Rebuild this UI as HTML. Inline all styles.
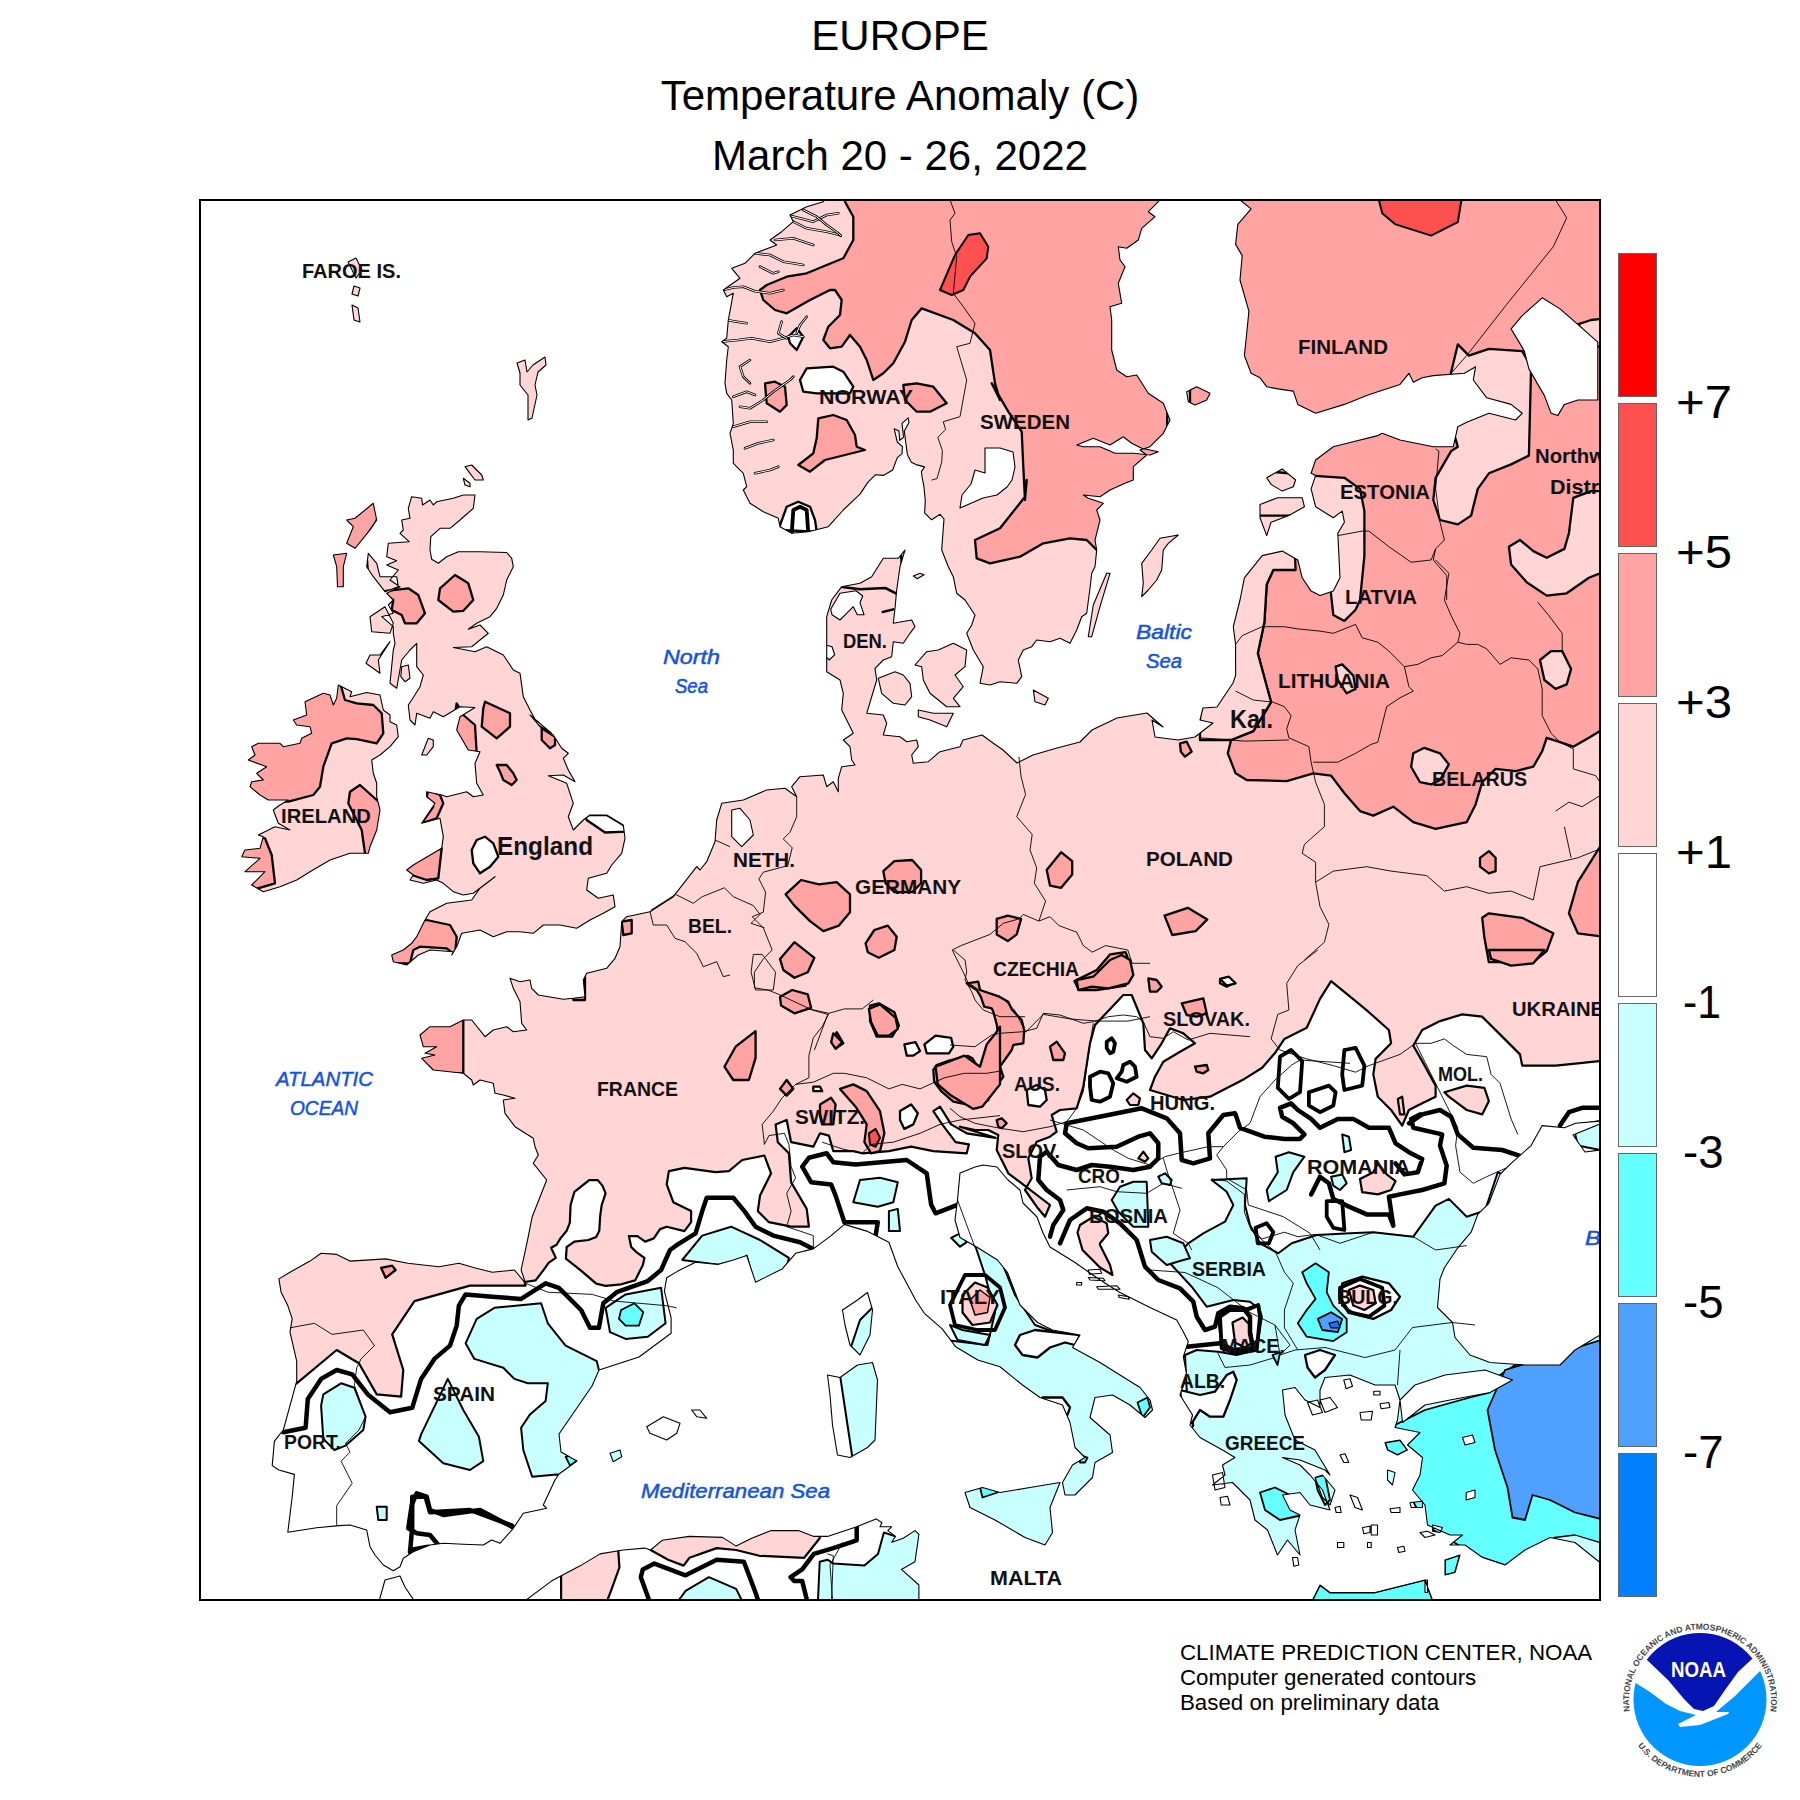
<!DOCTYPE html>
<html><head><meta charset="utf-8"><style>
html,body{margin:0;padding:0;background:#fff;width:1800px;height:1800px;overflow:hidden;position:relative}
text{font-family:"Liberation Sans",sans-serif}
.t{font-size:42px;text-anchor:middle}
.leg{font-size:46.5px}
.f{font-size:22.3px}
.c{font-size:21px;font-weight:bold;fill:#111}
.cl{font-size:25px;font-weight:bold;fill:#111}
.s{font-size:21px;font-style:italic;fill:#1552e0;stroke:#1552e0;stroke-width:0.5}
</style></head><body>
<svg width="1800" height="1800" viewBox="0 0 1800 1800" style="position:absolute;left:0;top:0">
<defs><clipPath id="land"><path d="M411.7,496.7 421.7,498.3 422.5,505 430,500 433.3,505 436.7,501.7 453.3,498.3 463.3,495 475,495 473.3,508.3 460,520 450,528.3 440,528.3 430.8,536.7 430,550 431.7,559.2 438.3,563.3 446.7,556.7 458.3,551.7 480,551.7 506.7,552.5 511.7,558.3 513.3,566.7 506.7,580 503.3,595 496.7,608.3 490,616.7 476.7,623.3 468.3,629.2 480,625 488.3,633.3 480,640 471.7,646.7 453.3,647.5 475,651.7 486.7,646.7 503.3,655 513.3,670 520,673.3 523.3,696.7 530,710 538.3,725 551.7,733.3 530,715 540,726.7 553.3,735 561.7,748.3 568.3,753.3 563.3,758.3 568.3,770 575,781.7 563.3,775 548.3,775.8 566.7,783.3 573.3,803.3 568.3,816.7 573.3,830 583.3,820 590,815 606.7,815 623.3,825 625,838.3 621.7,853.3 611.7,865 606.7,873.3 588.3,878.3 586.7,890 598.3,898.3 613.3,895 615,906.7 603.3,913.3 590,920 576.7,928.3 560,925 543.3,925 533.3,933.3 520,931.7 506.7,931.7 493.3,936.7 480,930 461.7,933.3 456.7,946.7 451.7,955 453.3,951.7 430,950 418.3,955 406.7,965 393.3,961.7 391.7,955 403.3,950 411.7,943.3 416.7,936.7 425,920 430,911.7 446.7,903.3 471.7,900 480,888.3 495,876.7 473.3,893.3 463.3,895 453.3,891.7 443.3,883.3 436.7,880 423.3,883.3 410,880 413.3,875 406.7,870 413.3,865 441.7,848.3 443.3,836.7 440,818.3 421.7,823.3 435,803.3 426.7,796.7 426.7,791.7 441.7,795 446.7,796.7 466.7,791.7 473.3,796.7 483.3,795 476.7,783.3 475,763.3 480,751.7 468.3,750 456.7,730 460,716.7 475,707.5 460,706.7 443.3,716.7 433.3,711.7 430,718.3 416.7,713.3 415,725 410,720 408.3,705 411.7,700 420,686.7 423.3,675 416.7,666.7 416.7,643.3 410,650 401.7,660 396.7,688.3 390,683.3 393.3,650 395,643.3 393.3,633.3 393.3,626.7 381.7,616.7 393.3,613.3 388.3,605 393.3,600 386.7,593.3 400,586.7 390,580 398.3,570 386.7,565 396.7,560.8 386.7,556.7 388.3,543.3 409.2,541.7 400,533.3 403.3,530 401.7,520 410,518.3 408.3,508.3 ZM338.3,685 351.7,691.7 350,696.7 366.7,692.5 380,695 383.3,710 390,715 390,721.7 396.7,725 398.3,736.7 390,746.7 380,755 371.7,760 373.3,773.3 376.7,783.3 376.7,796.7 380,810 376.7,830 370,846.7 368.3,853.3 350,853.3 330,860 310,871.7 296.7,880 280,886.7 263.3,891.7 251.7,885 265,871.7 245,871.7 260,858.3 241.7,856.7 245,850 260,848.3 263.3,836.7 258.3,835 275,826.7 290,830 278.3,823.3 273.3,810 280,805 288.3,800 268.3,800 260,795 250,786.7 251.7,781.7 263.3,780 256.7,773.3 266.7,766.7 248.3,760 255,755 251.7,746.7 258.3,743.3 280,743.3 283.3,746.7 300,743.3 301.7,738.3 311.7,733.3 310,726.7 296.7,725 293.3,720 306.7,715 305,701.7 323.3,693.3 330,695 333.3,705 336.7,698.3 ZM373.3,503.3 376.7,520 370,530 355,548.3 346.7,543.3 353.3,526.7 346.7,520 355,518.3 ZM333.3,555 346.7,553.3 343.3,566.7 343.3,586.7 337.5,586.7 336.7,566.7 ZM368.3,553.3 376.7,563.3 380,576.7 396.7,576.7 398.3,586.7 385,591.7 373.3,576.7 366.7,566.7 ZM370,616.7 385,606.7 393.3,623.3 390,633.3 371.7,631.7 ZM366,663.3 380,673.3 378.3,660 390,641.7 380,655 370,655 ZM401.7,666.7 408.3,665 410,678.3 405,681.7 400.8,676.7 ZM465,466.7 471.7,465 481.7,475 483.3,480 475,480 470,473.3 ZM463.3,478.3 470,483.3 470,486.7 465,485 ZM421.7,755 428.3,738.3 433.3,740 433.3,746.7 426.7,755 ZM517,363 525,360 527,372 533,365 545,357 546,365 538,372 535,385 537,395 532,418 528,420 528,395 520,385 520,373 ZM348,262 356,258 362,270 356,278 ZM354,286 360,288 358,296 352,294 ZM352,305 358,308 360,322 354,320 ZM823.3,196.7 823.3,201.7 806.7,206.7 790,215 793.3,221.7 781.7,231.7 770,240 776.7,245 755,253.3 745,263.3 731.7,268.3 740,278.3 723.3,290 726.7,296.7 733.3,293.3 728.3,320 726.7,338.3 721.7,341.7 728.3,346.7 726.7,360 725,383.3 726.7,393.3 731.7,400 733.3,423.3 730,433.3 733.3,450 733.3,463.3 743.3,473.3 746.7,486.7 743.3,490 750,503.3 763.3,511.7 778.3,518.3 780,526.7 791.7,533.3 808.3,531.7 828.3,526.7 843.3,510 860,494.1 867.8,482.4 875.6,474.7 883.3,475.4 892.7,470 897.3,457.6 902,453.7 902.4,446.7 897.3,442 894.2,428.8 898.9,431.1 899.7,440.4 903.6,437.3 902,423.3 908.2,417.9 909,422.6 904.3,431.1 905.9,443.6 907.4,454.4 911.3,462.2 916,464.6 924.6,466.9 921.4,471.6 922.2,477.8 923.8,485.6 925.3,501.1 924.6,512.8 931.6,519.8 940.1,514.3 944,519 942.4,540 941.7,550 948.3,566.7 953.3,576.7 956.7,593.3 965,600 975,615 971.7,625 966.7,633.3 973.3,650 983.3,666.7 980,683.3 980,683.3 990,685 1000,681.7 1016.7,683.3 1021.7,676.7 1018.3,660 1023.3,650 1031.7,646.7 1036.7,640 1050,641.7 1060,638.3 1070,643.3 1076.7,630 1081.7,616.7 1086.7,613.3 1090,588.3 1091.7,573.3 1095,566.7 1096.7,550 1095,540 1096.7,533.3 1100,520 1096.7,510 1103.3,503.3 1088.3,498.3 1083.3,495 1100,496.7 1110,490 1125,483.3 1133.3,480 1133.3,466.7 1146.7,455 1140,450 1150,446.7 1163.3,433.3 1170,420 1163.3,403.3 1148.3,393.3 1136.7,375 1126.7,376.7 1116.7,370 1111.7,350 1111.7,320 1110,306.7 1121.7,303.3 1118.3,283.3 1125,266.7 1120,260 1118.3,246.7 1126.7,248.3 1138.3,240 1141.7,228.3 1155,216.7 1148.3,211.7 1160,200 1160,196.7 ZM1240,195.6 1240,200 1251.1,208.9 1237.8,224.4 1235.6,244.4 1242.2,255.6 1240,280 1248.9,311.1 1246.7,333.3 1244.4,355.6 1251.1,373.3 1260,377.8 1266.7,386.7 1277.8,388.9 1293.3,391.1 1297.8,404.4 1315.6,413.3 1344.4,404.4 1366.7,395.6 1380,391.1 1400,384.4 1408.9,373.3 1413.3,382.2 1422.2,377.8 1433.3,375.6 1464.4,373.3 1475.6,366.7 1473.3,380 1486.7,397.8 1511.1,404.4 1522.2,413.3 1515.6,420 1488.9,413.3 1466.7,422.2 1457.8,426.7 1453.3,446.7 1433.3,446.7 1400,440 1382.2,433.3 1377.8,435.6 1351.1,442.2 1333.3,446.7 1315.6,460 1311.1,473.3 1315.6,475.6 1311.1,488.9 1315.6,506.7 1333.3,517.8 1342.2,511.1 1344.4,522.2 1337.8,533.3 1340,577.8 1333.3,591.1 1320,595.6 1311.1,591.1 1302.2,577.8 1297.8,560 1282.2,551.1 1262.2,555.6 1244.4,577.8 1240,600 1233.3,626.7 1235.6,644.4 1235.6,675.6 1233,683 1217,707 1203,708 1200,720 1213,723 1195,737 1178,740 1155,737 1152,720 1163,727 1147,713 1117,718 1092,730 1080,742 1057,748 1033,755 1017,763 1003,750 993,743 982,735 963,740 960,746.7 940,751.7 928.3,761.7 913.3,763.3 911.7,755 918.3,746.7 916.7,740 906.7,741.7 900,736.7 883.3,735 886.7,723.3 883.3,715 866.7,713.3 876.7,680 875,668.3 883.3,660 891.7,656.7 893.3,641.7 903.3,643.3 910,633.3 915,626.7 911.7,620 893.3,623.3 895,608.3 896.7,590 900,566.7 905,550 898.3,558.3 883.3,558.3 871.7,576.7 860,583.3 841.7,586.7 831.7,600 826.7,616.7 826.7,646.7 826.7,671.7 840,680 843.3,693.3 841.7,710 853.3,733.3 843.3,740 850,746.7 851.7,760 855,765 841.7,766.7 838.3,778.3 838.3,791.7 833.3,781.7 826.7,786.7 823.3,775 800,776.7 791.7,786.7 796.7,796.7 785,788.3 766.7,790 743.3,800 721.7,803.3 716.7,820 715,841.7 706.7,861.7 700,870 696.7,866.7 673.3,896.7 650,911.7 626.7,916.7 621.7,921.7 620,946.7 615,958.3 606.7,968.3 586.7,973.3 583.3,980 585,996.7 573.3,998.3 563.3,999.2 538.3,995 531.7,988.3 530,980 520,981.7 510,978.3 513.3,988.3 520,1001.7 521.7,1023.3 526.7,1030 513.3,1031.7 506.7,1026.7 493.3,1030 485,1036.7 471.7,1020 463.3,1020 450,1026.7 430,1026.7 420,1035 423.3,1046.7 436.7,1046.7 425,1053.3 435,1055 421.7,1058.3 433.3,1070 463.3,1073.3 471.7,1080 473.3,1085 480,1080 493.3,1083.3 495,1093.3 503.3,1095 515,1098.3 503.3,1100 505,1113.3 515,1126.7 533.3,1138.3 535,1146.7 538.3,1155 533.3,1163.3 546.7,1180 532.2,1216.7 527.8,1238.9 521.1,1270 525.6,1283.3 514.4,1270 492.2,1272.2 474.4,1267.8 458.9,1263.3 438.9,1266.7 407.8,1263.3 385.6,1258.9 350,1261.1 336.7,1254.4 321.1,1253.3 310,1261.1 290,1272.2 278.9,1278.9 281.1,1292.2 287.8,1305.6 292.2,1318.9 290,1332.2 296.7,1361.1 296.7,1381.1 290,1405.6 283.3,1430 274.4,1441.1 272.2,1465.6 278.9,1470 294.4,1474.4 292.2,1496.7 287.8,1532.2 316.7,1527.8 338.9,1525.6 350,1525 366.7,1530 370,1546.7 375,1555 383.3,1565 393.3,1570.8 400,1566.7 403.3,1558.3 413.3,1551.7 430,1545 443.3,1543.3 463.3,1544.2 483.3,1545 491.7,1540 500,1543.3 513.3,1528.3 523.3,1513.3 546.7,1508.3 543.3,1505 555,1480 559,1474 577,1461 561,1452 559,1434 592,1386 599,1370 639,1357 671.1,1333.3 671.1,1317.8 664.4,1291.1 666.7,1277.8 677.8,1271.1 695.6,1262.2 717.8,1264.4 733.3,1260 746.7,1255.6 755.6,1282.2 782.2,1268.9 795.6,1253.3 813.3,1248.9 831.1,1235.6 844.4,1224.4 866.7,1231.1 888.9,1242.2 897.8,1266.7 915.6,1300 924.4,1313.3 942.2,1328.9 955.6,1346.7 977.8,1360 1000,1366.7 1022.5,1385 1040,1397.5 1062.5,1405 1070,1422.5 1075,1447.5 1085,1457.5 1072.5,1465 1062.5,1482.5 1065,1495 1075,1495 1092.5,1477.5 1095,1462.5 1112.5,1452.5 1110,1435 1090,1417.5 1095,1397.5 1112.5,1395 1130,1405 1145,1417.5 1152.5,1410 1150,1400 1140,1387.5 1120,1375 1100,1362.5 1072.5,1347.5 1080,1335 1052.5,1330 1037.5,1322.5 1020,1305 1007.5,1272.5 997.5,1260 977.5,1247.5 960,1237.5 955,1220 957.5,1200 960,1173 975,1167 983,1165 997,1167 1008,1180 1020,1190 1023,1203 1037,1217 1043,1233 1050,1247 1075,1262.5 1100,1280 1120,1292.5 1150,1307.5 1176.7,1320 1183.3,1331.7 1188.3,1341.7 1183.3,1356.7 1186.7,1375 1180,1395 1192.5,1415 1190,1425 1200,1437.5 1222.5,1450 1235,1457.5 1222.5,1465 1225,1475 1212.5,1485 1232.5,1482.5 1250,1500 1255,1520 1267.5,1530 1277.5,1555 1287.5,1540 1300,1555 1295,1530 1300,1515 1290,1510 1282.5,1495 1300,1492.5 1310,1505 1330,1510 1322.5,1490 1310,1475 1300,1465 1282.5,1457.5 1300,1460 1325,1470 1330,1475 1315,1450 1295,1440 1285,1415 1282.5,1390 1295,1387.5 1305,1400 1320,1407.5 1320,1390 1325,1377.5 1350,1375 1375,1385 1395,1385 1400,1400 1397.5,1420 1395,1427.5 1420,1432.5 1407.5,1445 1422.5,1457.5 1420,1475 1412.5,1490 1425,1505 1427.5,1525 1450,1535 1462.5,1535 1450,1545 1465,1545 1482.5,1557.5 1505,1565 1525,1550 1550,1537.5 1575,1542.5 1600,1562.5 1615,1562 1615,1335 1600,1335 1575,1350 1560,1365 1525,1365 1490,1362.5 1470,1355 1455,1337.5 1452.5,1322.5 1437.5,1307.5 1440,1278.9 1444.4,1267.8 1457.8,1247.8 1471.1,1232.2 1477.8,1214.4 1488.9,1203.3 1500,1174.4 1511.1,1163.3 1531.1,1145.6 1542.2,1125.6 1564.4,1127.8 1575.6,1123.3 1600,1121 1615,1121 1615,185 1240,185 ZM378,1605 385,1580 400,1576 405,1587 417,1605 525,1605 526.1,1600 551.4,1581.1 580.6,1565.6 600,1553.9 623.3,1550 644.7,1548.1 650.6,1550 662.2,1540.3 689.4,1536.4 722.5,1537.4 736.1,1546.1 751.7,1538.3 771.1,1530.6 776.9,1530.6 798.3,1530.6 813.9,1536.4 827.5,1536.4 856.7,1526.7 876.1,1518.9 881.9,1522.8 880,1526.7 891.7,1526.7 887.8,1530.6 895.5,1536.4 891.7,1542.2 903.3,1538.3 915,1530.6 918.9,1534.4 915,1561.7 901.4,1569.4 918.9,1585 918.9,1604.4 ZM878.3,678.3 895,671.7 903.3,675 910,683.3 911.7,696.7 905,705 893.3,703.3 881.7,693.3 ZM915,665 926.7,651.7 938.3,650 953.3,643.3 966.7,650 965,666.7 955,675 963.3,686.7 953.3,698.3 960,706.7 946.7,706.7 930,693.3 923.3,680 921.7,666.7 ZM918.3,710 933.3,713.3 953.3,713.3 946.7,726.7 930,720 918.3,716.7 ZM1088.3,636.7 1093.3,605 1106.7,573.3 1110,573.3 1100,606.7 1091.7,636.7 ZM1141.7,596.7 1143.3,583.3 1141.7,563.3 1151.7,550 1160,538.3 1178.3,535 1168.3,543.3 1163.3,550 1161.7,570 1156.7,580 1148.3,590 ZM1033.3,690 1048.3,698.3 1045,705 1035,701.7 ZM1266.7,477.8 1282.2,468.9 1295.6,480 1293.3,486.7 1282.2,491.1 1271.1,484.4 ZM1260,504.4 1277.8,497.8 1302.2,497.8 1304.4,506.7 1288.9,515.6 1271.1,522.2 1266.7,535.6 1260,517.8 ZM1186.7,391.7 1196.7,386.7 1210,393.3 1206.7,400 1195,405 1188.3,401.7 ZM842.5,1310 857.5,1300 867.5,1292.5 872.5,1310 870,1335 860,1355 850,1345 845,1325 ZM827.5,1375 840,1377.5 857.5,1365 872.5,1362.5 877.5,1380 875,1440 867.5,1447.5 850,1457.5 837.5,1455 832.5,1425 830,1395 ZM965,1492.5 982.5,1487.5 1000,1492.5 1030,1487.5 1060,1482.5 1050,1507.5 1052.5,1532.5 1045,1545 1025,1537.5 995,1520 970,1507.5 ZM1312.5,1600 1320,1585 1330,1592.5 1375,1592.5 1425,1580 1432.5,1600 ZM646.7,1426.7 663.3,1416.7 680,1423.3 676.7,1433.3 666.7,1440 650,1433.3 ZM610,1453.3 620,1450 621.7,1456.7 613.3,1461.7 ZM691.7,1410 700,1410 706.7,1418.3 696.7,1416.7 ZM1573,1135 1600,1124 1600,1150 1585,1152 ZM1385,1442.5 1400,1440 1407.5,1450 1397.5,1455 1387.5,1450 ZM1387.5,1470 1395,1472.5 1392.5,1485 1387.5,1480 ZM1445,1560 1460,1555 1455,1572.5 1445,1575 ZM1315,1477.5 1322.5,1475 1335,1490 1330,1505 1322.5,1497.5 ZM985,448 1000,448 1013,452 1015,467 1012,480 1007,487 997,495 983,498 967,505 960,508 962,495 971,484 975,470 985,473 ZM1076.7,445 1093.3,438.3 1110,445 1123.3,436.7 1131.7,443.3 1141.7,448.3 1158.3,451.7 1150,455 1133.3,453.3 1115,453.3 1100,446.7 1083.3,446.7 ZM1511.1,328.9 1522.2,315.6 1542.2,297.8 1560,308.9 1577.8,324.4 1597.8,342.2 1597.8,400 1577.8,400 1564.4,404.4 1557.8,415.6 1551.1,413.3 1544.4,395.6 1528.9,368.9 1524.4,351.1 ZM731.7,810 740,808.3 750,820 753.3,835 741.7,846.7 731.7,836.7 ZM1400,1400 1415,1385 1445,1375 1485,1370 1512.5,1380 1490,1392.5 1450,1400 1425,1405 1402.5,1422.5 ZM1088.3,1270 1100,1269.2 1101.7,1273.3 1089.2,1274.2 ZM1088.3,1277.5 1103.3,1278.3 1105,1280.8 1090,1280 ZM1096.7,1286.7 1116.7,1285.8 1120,1289.2 1098.3,1289.2 ZM1118.3,1295 1128.3,1296.7 1129.2,1299.2 1119.2,1297.5 ZM1076.7,1282.5 1081.7,1282.5 1081.7,1285 1076.7,1285 ZM1343.8,1380 1350,1378.8 1352.5,1386.2 1346.2,1388.8 ZM1373.8,1391.2 1380,1391.2 1380,1395 1373.8,1395 ZM1380,1403.8 1388.8,1402.5 1390,1407.5 1381.2,1408.8 ZM1360,1412.5 1372.5,1411.2 1371.2,1420 1361.2,1420 ZM1307.5,1402.5 1317.5,1400 1322.5,1412.5 1312.5,1415 ZM1320,1400 1330,1397.5 1337.5,1407.5 1325,1412.5 ZM1340,1455 1345,1453.8 1348.8,1462.5 1343.8,1462.5 ZM1335,1507.5 1340,1506.2 1341.2,1512.5 1336.2,1512.5 ZM1350,1495 1357.5,1497.5 1362.5,1510 1355,1507.5 ZM1362.5,1527.5 1370,1526.2 1370,1532.5 1363.8,1533.8 ZM1371.2,1525 1377.5,1525 1377.5,1535 1371.2,1535 ZM1390,1508.8 1400,1507.5 1400,1512.5 1391.2,1512.5 ZM1410,1502.5 1422.5,1501.2 1422.5,1507.5 1411.2,1507.5 ZM1337.5,1542.5 1343.8,1542.5 1343.8,1547.5 1337.5,1547.5 ZM1367.5,1542.5 1371.2,1542.5 1371.2,1547.5 1367.5,1547.5 ZM1397.5,1547.5 1403.8,1546.2 1405,1551.2 1398.8,1552.5 ZM1420,1532.5 1427.5,1531.2 1435,1535 1425,1537.5 ZM1432.5,1525 1442.5,1527.5 1440,1532.5 1432.5,1531.2 ZM1462.5,1437.5 1472.5,1435 1475,1442.5 1465,1445 ZM1466.2,1492.5 1475,1490 1475,1497.5 1466.2,1500 ZM1292.5,1557.5 1297.5,1557.5 1298.8,1565 1293.8,1566.2 ZM1212.5,1475 1222.5,1472.5 1225,1487.5 1215,1490 ZM1220,1497.5 1227.5,1496.2 1230,1505 1221.2,1505 ZM1425,1580 1427.5,1580 1427.5,1592.5 1425,1592.5 ZM830.7,609.3 840,593.3 856,590.7 862.7,596 860,602.7 864,614.7 857.3,614.7 853.3,606.7 845.3,614.7 840,620 832,614.7 ZM826.7,645.3 832,646.7 834.7,654.7 829.3,660 826.7,657.3 ZM913.3,576 920,573.3 924,574.7 917.3,578.7 Z" clip-rule="evenodd"/></clipPath>
<clipPath id="frame"><rect x="201" y="201" width="1398" height="1398"/></clipPath></defs>
<g clip-path="url(#frame)">
<g clip-path="url(#land)">
<path d="M185,1383 296.7,1383.3 336.7,1350 358.9,1363.3 376.7,1394.4 401.1,1396.7 403.3,1370 392.2,1334.4 414.4,1301.1 470,1285.6 525.6,1285.6 524.7,1282 535.6,1280.4 543.3,1270.3 548.8,1262.6 555.8,1257.9 551.1,1247.8 556.6,1244.7 560.4,1238.4 566.7,1230.7 569.8,1222.9 570.6,1205 574.4,1191.8 589.2,1180.1 597.8,1180.1 602.4,1185.6 605.6,1193.3 601.7,1205 600.1,1216.7 599.3,1230.7 596.2,1236.9 588.4,1240 574.4,1241.6 566.7,1247 565.9,1258.7 580.7,1270.3 596.2,1283.6 605.6,1285.9 621.1,1284.3 635.1,1280.4 642.9,1264.9 644.4,1257.9 636.7,1252.4 631.2,1247 628.9,1236.1 637.4,1236.1 645.2,1241.6 653.8,1238.4 660,1229.1 666.7,1226.7 684.4,1231.1 691.1,1222.2 691.1,1211.1 673.3,1202.2 666.7,1184.4 668.9,1171.1 684.4,1167.8 715.6,1172.2 728.9,1171.1 742.2,1160 764.4,1155.6 771.1,1173.3 760,1195.6 757.8,1211.1 768.9,1222.2 791.1,1226.7 808.9,1226.7 806.7,1208.9 791.1,1182.2 788.9,1153.3 777.8,1142.2 775.6,1124.4 786.7,1120 791.1,1142.2 813.3,1146.7 820,1133.3 828.9,1135.6 833.3,1151.1 853.3,1151.1 862.2,1153.3 888.9,1151.1 911.1,1146.7 933.3,1151.1 966.7,1153.3 968.9,1144.4 955.6,1142.2 942.2,1124.4 933.3,1111.1 940,1106.7 951.1,1124.4 966.7,1133.3 995.6,1137.8 960,1126.7 975,1130 988.3,1130 998.3,1135 996.7,1150 1008.3,1173.3 1028.3,1188.3 1050,1205 1045,1216.7 1036.7,1206.7 1025,1190 1031.7,1178.3 1028.3,1158.3 1036.7,1141.7 1050,1136.7 1056.7,1131.7 1051.7,1115 1060,1110 1076.7,1108.3 1083.3,1086.7 1090,1043.3 1095,1025 1123.3,995 1131.7,995 1143.3,1023.3 1145,1050 1151.7,1058.3 1161.7,1043.3 1170,1028.3 1183.3,1033.3 1195,1043.3 1180,1051.7 1163.3,1061.7 1155,1076.7 1150,1090 1183.3,1100 1210,1096.7 1244.4,1078.9 1262.2,1067.8 1275.6,1052.2 1284.4,1038.9 1306.7,1027.8 1320,998.9 1331.1,981.1 1355.6,1001.1 1368.9,1012.2 1388.9,1030 1391.1,1043.3 1375.6,1058.9 1373.3,1074.4 1377.8,1096.7 1391.1,1110 1402.2,1125.6 1408.9,1110 1422.2,1103.3 1435.6,1096.7 1435.6,1085.6 1422.2,1061.1 1413.3,1045.6 1422.2,1030 1440,1021.1 1462.2,1014.4 1482.2,1016.7 1500,1034.4 1520,1054.4 1522.2,1065.6 1555.6,1065.6 1577.8,1063.3 1600,1061.1 1615,1061 1615,185 185,185 Z" fill="#ffd5d5" stroke="#000" stroke-width="2.2" stroke-linejoin="round"/>
<path d="M230,480 560,480 640,760 640,1000 230,1000 Z" fill="#ffd5d5"/>
<path d="M455,575 468.3,583.3 473.3,600 463.3,610.8 453.3,611.7 438.3,600 440,588.3 Z" fill="#ffa3a3" stroke="#000" stroke-width="2.3" stroke-linejoin="round"/>
<path d="M408.3,588.3 418.3,595 425,613.3 416.7,623.3 405,623.3 401.7,615 391.7,610 393.3,600 380,591.7 Z" fill="#ffa3a3" stroke="#000" stroke-width="2.3" stroke-linejoin="round"/>
<path d="M340,495 385,495 376,522 355,552 335,555 Z" fill="#ffa3a3" stroke="#000" stroke-width="2.3" stroke-linejoin="round"/>
<path d="M330,550 350,550 350,600 330,600 Z" fill="#ffa3a3" stroke="#000" stroke-width="2.3" stroke-linejoin="round"/>
<path d="M355,560 367,560 368,573 360,575 Z" fill="#ffa3a3" stroke="#000" stroke-width="2.3" stroke-linejoin="round"/>
<path d="M485,701.7 510,713.3 510,726.7 496.7,738.3 481.7,726.7 483.3,708.3 Z" fill="#ffa3a3" stroke="#000" stroke-width="2.3" stroke-linejoin="round"/>
<path d="M541.7,728.3 555,736.7 555,745 550,748.3 541.7,740 Z" fill="#ffa3a3" stroke="#000" stroke-width="2.3" stroke-linejoin="round"/>
<path d="M496.7,765 506.7,765 513.3,773.3 516.7,780 511.7,785 503.3,780 500,771.7 Z" fill="#ffa3a3" stroke="#000" stroke-width="2.3" stroke-linejoin="round"/>
<path d="M456.7,703.3 463.3,715 475,725 476.7,753.3 470,753.3 451.7,735 Z" fill="#ffa3a3" stroke="#000" stroke-width="2.3" stroke-linejoin="round"/>
<path d="M428.3,790 440,795 443.3,803.3 436.7,818.3 421.7,823.3 433.3,806.7 426.7,796.7 Z" fill="#ffa3a3" stroke="#000" stroke-width="2.3" stroke-linejoin="round"/>
<path d="M441.7,848.3 438.3,878.3 426.7,880 396.7,870 413.3,856.7 Z" fill="#ffa3a3" stroke="#000" stroke-width="2.3" stroke-linejoin="round"/>
<path d="M426.7,920 450,925 456.7,936.7 455,955 446.7,948.3 420,946.7 413.3,950 410,963.3 380,963.3 380,913.3 Z" fill="#ffa3a3" stroke="#000" stroke-width="2.3" stroke-linejoin="round"/>
<path d="M485,836.7 493.3,843.3 498.3,856.7 490,866.7 480,873.3 473.3,863.3 471.7,850 476.7,840 Z" fill="#ffffff" stroke="#000" stroke-width="2.3" stroke-linejoin="round"/>
<path d="M585,815 606.7,815 623.3,825 625.8,831.7 605,832.5 586.7,820 Z" fill="#ffffff" stroke="#000" stroke-width="2.3" stroke-linejoin="round"/>
<path d="M246.7,743.3 338.3,676.7 345,700 356.7,703.3 373.3,705 381.7,713.3 383.3,733.3 376.7,743.3 356.7,739.2 346.7,738.3 331.7,743.3 323.3,766.7 320,786.7 313.3,795 288.3,801.7 230,803.3 Z" fill="#ffa3a3" stroke="#000" stroke-width="2.3" stroke-linejoin="round"/>
<path d="M360,785 376.7,800 396.7,813.3 388.3,846.7 368.3,856.7 365,853.3 361.7,830 353.3,813.3 348.3,803.3 350,791.7 Z" fill="#ffa3a3" stroke="#000" stroke-width="2.3" stroke-linejoin="round"/>
<path d="M230,830 265,838.3 271.7,855 275,883.3 230,896.7 Z" fill="#ffa3a3" stroke="#000" stroke-width="2.3" stroke-linejoin="round"/>
<path d="M845,196.7 845,201.7 853.3,216.7 853.3,240 843.3,258.3 826.7,265 806.7,273.3 786.7,276.7 766.7,285 760,290 763.3,300 775,310 786.7,313.3 810,300 830,290 835,290 841.7,300 840,315 828.3,326.7 823.3,340 830,348.3 841.7,346.7 850,335 860,346.7 866.7,360 873.3,380 883.3,373.3 893.3,363.3 905,341.7 911.7,320 921.7,308.3 953.3,320 975,333.3 990,350 995,383.3 1000,400 991.7,383.3 1008.3,411.7 1021.7,431.7 1023.3,466.7 1025,500 1026.7,480 1025,496.7 1000,528.3 975,540 976.7,558.3 990,563.3 1020,556.7 1043.3,543.3 1070,538.3 1086.7,540 1096.7,550 1116.7,550 1166.7,463.3 1170,185 845,185 Z" fill="#ffa3a3" stroke="#000" stroke-width="2.3" stroke-linejoin="round"/>
<path d="M765,383.3 775,381.7 785,386.7 786.7,405 780,411.7 766.7,403.3 Z" fill="#ffa3a3" stroke="#000" stroke-width="2.3" stroke-linejoin="round"/>
<path d="M903.3,385 916.7,383.3 933.3,386.7 946.7,403.3 930,411.7 916.7,411.7 905,400 Z" fill="#ffa3a3" stroke="#000" stroke-width="2.3" stroke-linejoin="round"/>
<path d="M818.3,418.3 833.3,415 846.7,420 855,435 856.7,446.7 865,450 825,460 810,471.7 798.3,465 813.3,453.3 816.7,438.3 Z" fill="#ffa3a3" stroke="#000" stroke-width="2.3" stroke-linejoin="round"/>
<path d="M1190,185 1190,610 1273.3,570 1266.7,584.4 1264.4,622.2 1257.8,653.3 1264.4,677.8 1271.1,702.2 1253.3,731.1 1231.1,740 1227.8,753.3 1235.6,773.3 1246.7,780 1286.7,781.1 1313.3,773.3 1331.1,775.6 1344.4,793.3 1360,811.1 1373.3,815.6 1393.3,806.7 1413.3,822.2 1435.6,828.9 1466.7,822.2 1475.6,804.4 1482.2,782.2 1495.6,768.9 1515.6,771.1 1533.3,766.7 1542.2,751.1 1546.7,737.8 1560,742.2 1573.3,746.7 1588.9,737.8 1600,731.1 1615,731 1615,185 Z" fill="#ffa3a3" stroke="#000" stroke-width="2.3" stroke-linejoin="round"/>
<path d="M1600,846.7 1577.8,882.2 1568.9,913.3 1577.8,933.3 1611.1,937.8 1611.1,846.7 Z" fill="#ffa3a3" stroke="#000" stroke-width="2.3" stroke-linejoin="round"/>
<path d="M1480,857.8 1488.9,851.1 1495.6,857.8 1495.6,871.1 1488.9,873.3 1480,866.7 Z" fill="#ffa3a3" stroke="#000" stroke-width="2.3" stroke-linejoin="round"/>
<path d="M1482.2,917.8 1488.9,913.3 1522.2,917.8 1553.3,933.3 1546.7,951.1 1533.3,962.2 1488.9,962.2 1484.4,937.8 Z" fill="#ffa3a3" stroke="#000" stroke-width="2.3" stroke-linejoin="round"/>
<path d="M1180,743.3 1186.7,741.7 1191.7,751.7 1185,756.7 1180.8,751.7 Z" fill="#ffa3a3" stroke="#000" stroke-width="2.3" stroke-linejoin="round"/>
<path d="M785.6,894.4 801.1,880 818.9,884.4 836.7,882.2 850,894.4 850,912.2 838.9,925.6 823.3,931.1 810,921.1 794.4,905.6 Z" fill="#ffa3a3" stroke="#000" stroke-width="2.3" stroke-linejoin="round"/>
<path d="M883.3,871.1 894.4,861.1 912.2,860 921.1,870 921.1,883.3 912.2,892.2 894.4,892.2 885.6,883.3 Z" fill="#ffa3a3" stroke="#000" stroke-width="2.3" stroke-linejoin="round"/>
<path d="M865.6,943.3 874.4,930 887.8,925.6 896.7,936.7 894.4,950 878.9,957.8 867.8,952.2 Z" fill="#ffa3a3" stroke="#000" stroke-width="2.3" stroke-linejoin="round"/>
<path d="M780,958.9 794.4,942.2 814.4,957.8 807.8,972.2 794.4,977.8 783.3,970 Z" fill="#ffa3a3" stroke="#000" stroke-width="2.3" stroke-linejoin="round"/>
<path d="M780,996.7 792.2,990 807.8,994.4 811.1,1007.8 794.4,1013.3 781.1,1005.6 Z" fill="#ffa3a3" stroke="#000" stroke-width="2.3" stroke-linejoin="round"/>
<path d="M870,1005.6 878.9,1003.3 894.4,1012.2 898.9,1025.6 892.2,1036.7 876.7,1036.7 870,1021.1 Z" fill="#ffa3a3" stroke="#000" stroke-width="2.3" stroke-linejoin="round"/>
<path d="M1046.7,870 1061.1,852.2 1072.2,861.1 1072.2,874.4 1061.1,887.8 1050,885.6 Z" fill="#ffa3a3" stroke="#000" stroke-width="2.3" stroke-linejoin="round"/>
<path d="M996.7,918.9 1007.8,915.6 1021.1,918.9 1016.7,934.4 1007.8,941.1 996.7,934.4 Z" fill="#ffa3a3" stroke="#000" stroke-width="2.3" stroke-linejoin="round"/>
<path d="M1074.4,981.1 1096.7,970 1110,954.4 1125.6,952.2 1132.2,970 1125.6,985.6 1096.7,990 1078.9,990 Z" fill="#ffa3a3" stroke="#000" stroke-width="2.3" stroke-linejoin="round"/>
<path d="M832.2,1041.1 836.7,1032.2 843.3,1043.3 836.7,1047.8 Z" fill="#ffa3a3" stroke="#000" stroke-width="2.3" stroke-linejoin="round"/>
<path d="M966.7,983.3 978.3,981.7 980,990 999.2,996.7 1008.3,1001.7 1011.7,1009.2 1021.7,1020 1024.2,1030 1023.3,1043.3 1013.3,1045 1011.7,1050 1000,1066.7 1003.3,1076.7 989.2,1095 988.3,1100 976.7,1107.5 970,1105 953.3,1101.7 941.7,1091.7 934.2,1081.7 933.3,1070 936.7,1065 948.3,1060.8 967.5,1055.8 972.5,1058.3 983.3,1076.7 990,1053.3 995,1043.3 998.3,1035.8 996.7,1024.2 993.3,1011.7 991.7,1008.3 984.2,1006.7 980.8,996.7 976.7,990 970,985.8 Z" fill="#ffa3a3" stroke="#000" stroke-width="2.3" stroke-linejoin="round"/>
<path d="M1050,1046.7 1056.7,1041.7 1065,1053.3 1063.3,1060 1053.3,1060 Z" fill="#ffa3a3" stroke="#000" stroke-width="2.3" stroke-linejoin="round"/>
<path d="M996.7,1120 1001.7,1118.3 1006.7,1123.3 1001.7,1128.3 998.3,1126.7 Z" fill="#ffa3a3" stroke="#000" stroke-width="2.3" stroke-linejoin="round"/>
<path d="M1148.3,978.3 1156.7,980 1161.7,986.7 1156.7,991.7 1150,991.7 Z" fill="#ffa3a3" stroke="#000" stroke-width="2.3" stroke-linejoin="round"/>
<path d="M1181.7,1003.3 1203.3,998.3 1206.7,1013.3 1196.7,1016.7 1186.7,1015 Z" fill="#ffa3a3" stroke="#000" stroke-width="2.3" stroke-linejoin="round"/>
<path d="M1195,1066.7 1206.7,1065 1208.3,1070 1203.3,1073.3 1196.7,1071.7 Z" fill="#ffa3a3" stroke="#000" stroke-width="2.3" stroke-linejoin="round"/>
<path d="M1076.7,980 1093.3,976.7 1110,960 1121.7,955 1130,960 1133.3,975 1128.3,983.3 1108.3,988.3 1091.7,986.7 1078.3,990 Z" fill="#ffa3a3" stroke="#000" stroke-width="2.3" stroke-linejoin="round"/>
<path d="M1164.5,915.6 1187.8,907.8 1207.3,919.4 1195.6,931.1 1172.3,935 Z" fill="#ffa3a3" stroke="#000" stroke-width="2.3" stroke-linejoin="round"/>
<path d="M1488.9,950 1544.4,950 1533.3,963.3 1511.1,965.6 1491.1,958.9 Z" fill="#ffa3a3" stroke="#000" stroke-width="2.3" stroke-linejoin="round"/>
<path d="M724.4,1066.7 735.6,1046.7 755.6,1031.1 755.6,1057.8 748.9,1080 733.3,1080 Z" fill="#ffa3a3" stroke="#000" stroke-width="2.3" stroke-linejoin="round"/>
<path d="M868.9,1008.9 880,1004.4 895.6,1017.8 897.8,1028.9 888.9,1035.6 877.8,1035.6 871.1,1022.2 Z" fill="#ffa3a3" stroke="#000" stroke-width="2.3" stroke-linejoin="round"/>
<path d="M833.3,1033.3 842.2,1042.2 835.6,1048.9 831.1,1042.2 Z" fill="#ffa3a3" stroke="#000" stroke-width="2.3" stroke-linejoin="round"/>
<path d="M780,1088.9 786.7,1080 793.3,1088.9 786.7,1095.6 Z" fill="#ffa3a3" stroke="#000" stroke-width="2.3" stroke-linejoin="round"/>
<path d="M820,1104.4 831.1,1097.8 835.6,1104.4 833.3,1124.4 822.2,1124.4 820,1115.6 Z" fill="#ffa3a3" stroke="#000" stroke-width="2.3" stroke-linejoin="round"/>
<path d="M840,1088.9 853.3,1084.4 866.7,1091.1 880,1111.1 884.4,1133.3 880,1151.1 871.1,1153.3 864.4,1142.2 866.7,1124.4 855.6,1106.7 Z" fill="#ffa3a3" stroke="#000" stroke-width="2.3" stroke-linejoin="round"/>
<path d="M935.6,1066.7 964.4,1055.6 980,1066.7 986.7,1044.4 995.6,1033.3 1000,1026.7 1000,1084.4 982.2,1106.7 973.3,1108.9 951.1,1095.6 937.8,1084.4 Z" fill="#ffa3a3" stroke="#000" stroke-width="2.3" stroke-linejoin="round"/>
<path d="M463.3,1013.3 463.3,1073.3 400,1073.3 400,1013.3 Z" fill="#ffa3a3" stroke="#000" stroke-width="2.3" stroke-linejoin="round"/>
<path d="M621.7,921.7 631.7,920 631.7,933.3 623.3,935 Z" fill="#ffa3a3" stroke="#000" stroke-width="2.3" stroke-linejoin="round"/>
<path d="M573.3,980 585,976.7 585,1000 573.3,1000 Z" fill="#ffa3a3" stroke="#000" stroke-width="2.3" stroke-linejoin="round"/>
<path d="M381.1,1267.8 392.2,1265.6 395.6,1270 385.6,1277.8 Z" fill="#ffa3a3" stroke="#000" stroke-width="2.3" stroke-linejoin="round"/>
<path d="M970,1300 980,1290 990,1297.5 987.5,1312.5 975,1315 Z" fill="#ffa3a3" stroke="#000" stroke-width="2.3" stroke-linejoin="round"/>
<path d="M940,290 955,255 968.3,235 980,233.3 988.3,246.7 986.7,258.3 970,276.7 963.3,290 951.7,295 Z" fill="#ff5050" stroke="#000" stroke-width="2.0" stroke-linejoin="round"/>
<path d="M1377.8,195.6 1382.2,213.3 1395.6,224.4 1431.1,235.6 1457.8,222.2 1462.2,195.6 Z" fill="#ff5050" stroke="#000" stroke-width="2.0" stroke-linejoin="round"/>
<path d="M868.9,1133.3 875.6,1128.9 880,1137.8 875.6,1146.7 870,1144.4 Z" fill="#ff5050" stroke="#000" stroke-width="2.0" stroke-linejoin="round"/>
<path d="M1222.2,466.7 1311.1,475.6 1344.4,477.8 1360,488.9 1364.4,511.1 1364.4,555.6 1362.2,577.8 1360,600 1355.6,609.8 1344.4,620.9 1333.3,614.9 1324.4,533.3 1222.2,533.3 Z" fill="#ffd5d5" stroke="#000" stroke-width="2.3" stroke-linejoin="round"/>
<path d="M1200,515.6 1293.3,515.6 1295.6,570 1273.3,570 1266.7,584.4 1264.4,622.2 1257.8,653.3 1264.4,677.8 1271.1,702.2 1253.3,731.1 1231.1,740 1200,740 Z" fill="#ffd5d5" stroke="#000" stroke-width="2.3" stroke-linejoin="round"/>
<path d="M1457.8,344.4 1468.9,355.6 1488.9,348.9 1522.2,351.1 1531.1,366.7 1528.9,455.6 1511.1,464.4 1488.9,473.3 1477.8,488.9 1471.1,515.6 1457.8,524.4 1440,520 1433.3,500 1435.6,477.8 1451.1,451.1 1457.8,446.7 1444.4,400 Z" fill="#ffd5d5" stroke="#000" stroke-width="2.3" stroke-linejoin="round"/>
<path d="M1508.9,546.7 1520,540 1533.3,551.1 1546.7,557.8 1564.4,548.9 1568.9,533.3 1573.3,497.8 1591.1,491.1 1611.1,491.1 1611.1,568.9 1588.9,577.8 1566.7,593.3 1546.7,595.6 1526.7,582.2 1511.1,564.4 Z" fill="#ffd5d5" stroke="#000" stroke-width="2.3" stroke-linejoin="round"/>
<path d="M1577.8,324.4 1591.1,320 1611.1,317.8 1611.1,344.4 1597.8,346.7 Z" fill="#ffd5d5" stroke="#000" stroke-width="2.3" stroke-linejoin="round"/>
<path d="M1335.6,666.7 1342.2,664.4 1353.3,675.6 1355.6,688.9 1346.7,693.3 1337.8,680 Z" fill="#ffd5d5" stroke="#000" stroke-width="2.3" stroke-linejoin="round"/>
<path d="M1540,660 1551.1,651.1 1562.2,651.1 1571.1,668.9 1566.7,684.4 1555.6,688.9 1544.4,680 Z" fill="#ffd5d5" stroke="#000" stroke-width="2.3" stroke-linejoin="round"/>
<path d="M1413.3,753.3 1424.4,747.8 1440,753.3 1448.9,764.4 1440,780 1431.1,784.4 1420,782.2 1411.1,766.7 Z" fill="#ffd5d5" stroke="#000" stroke-width="2.3" stroke-linejoin="round"/>
<path d="M323.3,1394.4 341.1,1383.3 354.4,1387.8 365.6,1416.7 363.3,1430 345.6,1445.6 334.4,1450 323.3,1438.9 321.1,1405.6 Z" fill="#c8ffff" stroke="#000" stroke-width="2.0" stroke-linejoin="round"/>
<path d="M421.1,1434.4 447.8,1378.9 463.3,1410 478.9,1436.7 483.3,1461.1 470,1470 443.3,1463.3 418.9,1441.1 Z" fill="#c8ffff" stroke="#000" stroke-width="2.0" stroke-linejoin="round"/>
<path d="M465.6,1343.3 476.7,1318.9 494.4,1307.8 541.1,1303.3 547.8,1323.3 565.6,1345.6 596.7,1361.1 598.9,1370 625.6,1372.2 625.6,1483.3 556.7,1474.4 532.2,1476.7 523.3,1450 521.1,1427.8 530,1414.4 545.6,1401.1 547.8,1383.3 527.8,1383.3 514.4,1378.9 503.3,1367.8 474.4,1358.9 Z" fill="#c8ffff" stroke="#000" stroke-width="2.0" stroke-linejoin="round"/>
<path d="M610,1332.2 605.6,1307.8 625.6,1294.4 661.1,1287.8 665.6,1323.3 647.8,1336.7 625.6,1338.9 Z" fill="#c8ffff" stroke="#000" stroke-width="2.0" stroke-linejoin="round"/>
<path d="M376.7,1506.7 386.7,1506.7 386.7,1520 378.3,1520 Z" fill="#c8ffff" stroke="#000" stroke-width="2.0" stroke-linejoin="round"/>
<path d="M682.2,1260 702.2,1235.6 731.1,1226.7 760,1240 788.9,1257.8 782.2,1288.9 755.6,1288.9 746.7,1255.6 733.3,1266.7 Z" fill="#c8ffff" stroke="#000" stroke-width="2.0" stroke-linejoin="round"/>
<path d="M853.3,1202.2 860,1180 880,1177.8 897.8,1182.2 893.3,1202.2 877.8,1206.7 Z" fill="#c8ffff" stroke="#000" stroke-width="2.0" stroke-linejoin="round"/>
<path d="M888.9,1211.1 897.8,1208.9 900,1231.1 888.9,1231.1 Z" fill="#c8ffff" stroke="#000" stroke-width="2.0" stroke-linejoin="round"/>
<path d="M951.1,1237.8 960,1233.3 966.7,1242.2 960,1246.7 Z" fill="#c8ffff" stroke="#000" stroke-width="2.0" stroke-linejoin="round"/>
<path d="M850,1350 860,1320 875,1305 880,1350 860,1360 Z" fill="#c8ffff" stroke="#000" stroke-width="2.0" stroke-linejoin="round"/>
<path d="M840,1375 875,1350 890,1375 890,1475 855,1475 Z" fill="#c8ffff" stroke="#000" stroke-width="2.0" stroke-linejoin="round"/>
<path d="M975,1245 1000,1257.5 1015,1295 1035,1325 1175,1375 1175,1562.5 955,1562.5 945,1340 987.5,1345 995,1312.5 985,1275 Z" fill="#c8ffff" stroke="#000" stroke-width="2.0" stroke-linejoin="round"/>
<path d="M950,1325 957.5,1340 985,1345 990,1335 962.5,1330 Z" fill="#c8ffff" stroke="#000" stroke-width="2.0" stroke-linejoin="round"/>
<path d="M1211.7,1180 1246.7,1178.3 1245,1205 1250,1225 1260,1243.3 1278.3,1253.3 1291.7,1243.3 1316.7,1235 1350,1233.3 1373.3,1232.2 1413.3,1236.7 1435.6,1205.6 1448.9,1198.9 1466.7,1216.7 1480,1212.2 1533.3,1205.6 1650,1250 1650,1650 1180,1650 1166.7,1483.3 1193.3,1425 1186.7,1390 1185,1355 1196.7,1350 1218.3,1351.7 1236.7,1355 1255,1350 1251.7,1328.3 1260,1316.7 1258.3,1308.3 1250,1301.7 1233.3,1300 1206.7,1306.7 1191.7,1286.7 1170,1263.3 1188.3,1243.3 1203.3,1233.3 1225,1221.7 1233.3,1205 1226.7,1191.7 Z" fill="#c8ffff" stroke="#000" stroke-width="2.0" stroke-linejoin="round"/>
<path d="M1150,1240 1166.7,1236.7 1183.3,1243.3 1190,1258.3 1183.3,1260 1166.7,1265 1151.7,1251.7 Z" fill="#c8ffff" stroke="#000" stroke-width="2.0" stroke-linejoin="round"/>
<path d="M1111.7,1200 1120,1186.7 1133.3,1181.7 1146.7,1181.7 1148.3,1226.7 1133.3,1226.7 1118.3,1211.7 Z" fill="#c8ffff" stroke="#000" stroke-width="2.0" stroke-linejoin="round"/>
<path d="M1158.3,1176.7 1165,1173.3 1171.7,1180 1170,1185 1161.7,1183.3 Z" fill="#c8ffff" stroke="#000" stroke-width="2.0" stroke-linejoin="round"/>
<path d="M1275.6,1156.7 1288.9,1152.2 1304.4,1156.7 1293.3,1172.2 1286.7,1190 1268.9,1201.1 1266.7,1190 1277.8,1172.2 Z" fill="#c8ffff" stroke="#000" stroke-width="2.0" stroke-linejoin="round"/>
<path d="M1342.2,1134.4 1348.9,1136.7 1351.1,1150 1344.4,1152.2 Z" fill="#c8ffff" stroke="#000" stroke-width="2.0" stroke-linejoin="round"/>
<path d="M1331.1,1176.7 1342.2,1174.4 1346.7,1183.3 1340,1190 1333.3,1185.6 Z" fill="#c8ffff" stroke="#000" stroke-width="2.0" stroke-linejoin="round"/>
<path d="M1486.7,1205.6 1497.8,1172.2 1506.7,1176.7 1506.7,1203.3 Z" fill="#c8ffff" stroke="#000" stroke-width="2.0" stroke-linejoin="round"/>
<path d="M1573.3,1125.6 1600,1121.1 1600,1150 1577.8,1145.6 Z" fill="#c8ffff" stroke="#000" stroke-width="2.0" stroke-linejoin="round"/>
<path d="M817.8,1604.4 819.7,1561.7 827.5,1559.7 833.3,1563.6 864.4,1565.6 878,1553.9 883.9,1532.5 895.5,1536.4 930.5,1518.9 930.5,1604.4 Z" fill="#c8ffff" stroke="#000" stroke-width="2.0" stroke-linejoin="round"/>
<path d="M675.8,1604.4 685.6,1590.8 708.9,1577.2 736.1,1588.9 743.9,1604.4 Z" fill="#c8ffff" stroke="#000" stroke-width="2.0" stroke-linejoin="round"/>
<path d="M1180,1390 1200,1395 1215,1391.7 1226.7,1375 1233.3,1371.7 1236.7,1380 1230,1400 1223.3,1416.7 1210,1416.7 1200,1410 1191.7,1423.3 1183.3,1416.7 Z" fill="#ffffff" stroke="#000" stroke-width="2.3" stroke-linejoin="round"/>
<path d="M1020,1335 1035,1330 1080,1335 1075,1345 1065,1342.5 1050,1347.5 1037.5,1357.5 1022.5,1355 1015,1345 Z" fill="#ffffff" stroke="#000" stroke-width="2.3" stroke-linejoin="round"/>
<path d="M1042.5,1397.5 1062.5,1397.5 1070,1407.5 1067.5,1415 1050,1407.5 Z" fill="#ffffff" stroke="#000" stroke-width="2.3" stroke-linejoin="round"/>
<path d="M1305,1355 1320,1350 1335,1355 1325,1370 1315,1377.5 1307.5,1367.5 Z" fill="#ffffff" stroke="#000" stroke-width="2.3" stroke-linejoin="round"/>
<path d="M1218.3,1316.7 1230,1308.3 1246.7,1308.3 1258.3,1305 1261.7,1316.7 1256.7,1350 1236.7,1353.3 1221.7,1348.3 Z" fill="#ffffff" stroke="#000" stroke-width="2.3" stroke-linejoin="round"/>
<path d="M1342.2,1283.3 1362.2,1276.7 1388.9,1283.3 1400,1296.7 1391.1,1310 1373.3,1318.9 1355.6,1314.4 1342.2,1305.6 Z" fill="#ffffff" stroke="#000" stroke-width="2.3" stroke-linejoin="round"/>
<path d="M800,380 806.7,368.3 833.3,366.7 843.3,371.7 853.3,386.7 850,393.3 816.7,393.3 803.3,391.7 Z" fill="#ffffff" stroke="#000" stroke-width="2.3" stroke-linejoin="round"/>
<path d="M788.3,336.7 796.7,328.3 803.3,336.7 796.7,350 790,343.3 Z" fill="#ffffff" stroke="#000" stroke-width="2.3" stroke-linejoin="round"/>
<path d="M778.3,530 786.7,506.7 798.3,501.7 810,506.7 815,520 816.7,531.7 Z" fill="#ffffff" stroke="#000" stroke-width="2.3" stroke-linejoin="round"/>
<path d="M904.4,1044.4 915.6,1042.2 920,1051.1 913.3,1055.6 906.7,1055.6 Z" fill="#ffffff" stroke="#000" stroke-width="2.3" stroke-linejoin="round"/>
<path d="M924.4,1044.4 935.6,1035.6 951.1,1037.8 953.3,1046.7 948.9,1053.3 926.7,1053.3 Z" fill="#ffffff" stroke="#000" stroke-width="2.3" stroke-linejoin="round"/>
<path d="M813.3,1086.7 820,1086.7 822.2,1091.1 813.3,1091.1 Z" fill="#ffffff" stroke="#000" stroke-width="2.3" stroke-linejoin="round"/>
<path d="M900,1111.1 911.1,1104.4 917.8,1113.3 913.3,1124.4 904.4,1128.9 900,1120 Z" fill="#ffffff" stroke="#000" stroke-width="2.3" stroke-linejoin="round"/>
<path d="M1026.7,1090 1036.7,1085 1045,1090 1046.7,1100 1040,1106.7 1028.3,1105 Z" fill="#ffffff" stroke="#000" stroke-width="2.3" stroke-linejoin="round"/>
<path d="M1220,980 1230,978.3 1233.3,983.3 1226.7,986.7 1220,983.3 Z" fill="#ffffff" stroke="#000" stroke-width="2.3" stroke-linejoin="round"/>
<path d="M1220,978.9 1228.9,976.7 1235.6,983.3 1226.7,985.6 Z" fill="#ffffff" stroke="#000" stroke-width="2.3" stroke-linejoin="round"/>
<path d="M1444.4,1092.2 1466.7,1085.6 1484.4,1087.8 1488.9,1101.1 1482.2,1114.4 1466.7,1110 1448.9,1096.7 Z" fill="#ffd5d5" stroke="#000" stroke-width="2.2" stroke-linejoin="round"/>
<path d="M1397.8,1098.9 1402.2,1096.7 1404.4,1114.4 1400,1114.4 Z" fill="#ffd5d5" stroke="#000" stroke-width="2.2" stroke-linejoin="round"/>
<path d="M1360,1178.9 1373.3,1172.2 1377.8,1163.3 1386.7,1174.4 1395.6,1181.1 1391.1,1190 1377.8,1194.4 1362.2,1192.2 Z" fill="#ffd5d5" stroke="#000" stroke-width="2.2" stroke-linejoin="round"/>
<path d="M1126.7,1100 1133.3,1093.3 1140,1098.3 1138.3,1105 1130,1105 Z" fill="#ffd5d5" stroke="#000" stroke-width="2.2" stroke-linejoin="round"/>
<path d="M1138.3,1158.3 1143.3,1151.7 1148.3,1158.3 1145,1161.7 Z" fill="#ffd5d5" stroke="#000" stroke-width="2.2" stroke-linejoin="round"/>
<path d="M1080,1225 1093.3,1216.7 1106.7,1223.3 1108.3,1233.3 1100,1243.3 1100,1245 1110,1265 1112.5,1275 1100,1267.5 1082.5,1250 1077.5,1232.5 Z" fill="#ffd5d5" stroke="#000" stroke-width="2.2" stroke-linejoin="round"/>
<path d="M1232.5,1322.5 1242.5,1317.5 1250,1325 1252.5,1342.5 1245,1347.5 1235,1342.5 Z" fill="#ffd5d5" stroke="#000" stroke-width="2.2" stroke-linejoin="round"/>
<path d="M1348.9,1290 1360,1285.6 1373.3,1290 1375.6,1303.3 1364.4,1310 1353.3,1305.6 Z" fill="#ffd5d5" stroke="#000" stroke-width="2.2" stroke-linejoin="round"/>
<path d="M962.5,1295 975,1282.5 987.5,1287.5 997.5,1305 990,1322.5 972.5,1325 962.5,1312.5 Z" fill="#ffd5d5" stroke="#000" stroke-width="2.2" stroke-linejoin="round"/>
<path d="M561.1,1518.9 617.5,1538.3 619.4,1567.5 611.7,1588.9 605.8,1604.4 561.1,1604.4 Z" fill="#ffd5d5" stroke="#000" stroke-width="2.2" stroke-linejoin="round"/>
<path d="M638.9,1518.9 819.7,1518.9 819.7,1538.3 804.2,1557.8 759.4,1555.8 736.1,1550 716.7,1548.1 689.4,1557.8 683.6,1565.6 668.1,1559.7 650.6,1550 Z" fill="#ffd5d5" stroke="#000" stroke-width="2.2" stroke-linejoin="round"/>
<path d="M970,1300 980,1290 990,1297.5 987.5,1312.5 975,1315 Z" fill="#ffa3a3" stroke="#000" stroke-width="1.5" stroke-linejoin="round"/>
<path d="M1425,1580 1427.5,1580 1427.5,1592.5 1425,1592.5 Z" fill="#ffffff"/>
<path d="M1220,1497.5 1227.5,1496.2 1230,1505 1221.2,1505 Z" fill="#ffffff"/>
<path d="M1212.5,1475 1222.5,1472.5 1225,1487.5 1215,1490 Z" fill="#ffffff"/>
<path d="M1292.5,1557.5 1297.5,1557.5 1298.8,1565 1293.8,1566.2 Z" fill="#ffffff"/>
<path d="M1466.2,1492.5 1475,1490 1475,1497.5 1466.2,1500 Z" fill="#ffffff"/>
<path d="M1462.5,1437.5 1472.5,1435 1475,1442.5 1465,1445 Z" fill="#ffffff"/>
<path d="M1432.5,1525 1442.5,1527.5 1440,1532.5 1432.5,1531.2 Z" fill="#ffffff"/>
<path d="M1420,1532.5 1427.5,1531.2 1435,1535 1425,1537.5 Z" fill="#ffffff"/>
<path d="M1397.5,1547.5 1403.8,1546.2 1405,1551.2 1398.8,1552.5 Z" fill="#ffffff"/>
<path d="M1367.5,1542.5 1371.2,1542.5 1371.2,1547.5 1367.5,1547.5 Z" fill="#ffffff"/>
<path d="M1337.5,1542.5 1343.8,1542.5 1343.8,1547.5 1337.5,1547.5 Z" fill="#ffffff"/>
<path d="M1410,1502.5 1422.5,1501.2 1422.5,1507.5 1411.2,1507.5 Z" fill="#ffffff"/>
<path d="M1390,1508.8 1400,1507.5 1400,1512.5 1391.2,1512.5 Z" fill="#ffffff"/>
<path d="M1371.2,1525 1377.5,1525 1377.5,1535 1371.2,1535 Z" fill="#ffffff"/>
<path d="M1362.5,1527.5 1370,1526.2 1370,1532.5 1363.8,1533.8 Z" fill="#ffffff"/>
<path d="M1350,1495 1357.5,1497.5 1362.5,1510 1355,1507.5 Z" fill="#ffffff"/>
<path d="M1335,1507.5 1340,1506.2 1341.2,1512.5 1336.2,1512.5 Z" fill="#ffffff"/>
<path d="M1340,1455 1345,1453.8 1348.8,1462.5 1343.8,1462.5 Z" fill="#ffffff"/>
<path d="M1320,1400 1330,1397.5 1337.5,1407.5 1325,1412.5 Z" fill="#ffffff"/>
<path d="M1307.5,1402.5 1317.5,1400 1322.5,1412.5 1312.5,1415 Z" fill="#ffffff"/>
<path d="M1360,1412.5 1372.5,1411.2 1371.2,1420 1361.2,1420 Z" fill="#ffffff"/>
<path d="M1380,1403.8 1388.8,1402.5 1390,1407.5 1381.2,1408.8 Z" fill="#ffffff"/>
<path d="M1373.8,1391.2 1380,1391.2 1380,1395 1373.8,1395 Z" fill="#ffffff"/>
<path d="M1343.8,1380 1350,1378.8 1352.5,1386.2 1346.2,1388.8 Z" fill="#ffffff"/>
<path d="M621.1,1310 634.4,1303.3 643.3,1312.2 638.9,1325.6 625.6,1325.6 618.9,1318.9 Z" fill="#64ffff" stroke="#000" stroke-width="1.8" stroke-linejoin="round"/>
<path d="M565.6,1456.7 572.2,1455.6 576.7,1461.1 570,1465.6 Z" fill="#64ffff" stroke="#000" stroke-width="1.8" stroke-linejoin="round"/>
<path d="M1302.2,1272.2 1315.6,1263.3 1328.9,1272.2 1326.7,1292.2 1333.3,1305.6 1346.7,1318.9 1346.7,1332.2 1333.3,1341.1 1306.7,1336.7 1297.8,1323.3 1306.7,1310 1315.6,1298.9 1306.7,1283.3 Z" fill="#64ffff" stroke="#000" stroke-width="1.8" stroke-linejoin="round"/>
<path d="M1395,1425 1425,1410 1470,1397.5 1490,1392.5 1500,1375 1515,1365 1575,1355 1600,1340 1625,1340 1625,1575 1555,1537.5 1505,1565 1475,1555 1425,1525 1400,1475 1397.5,1440 Z" fill="#64ffff" stroke="#000" stroke-width="1.8" stroke-linejoin="round"/>
<path d="M1260,1492.5 1275,1487.5 1295,1497.5 1302.5,1515 1280,1520 1265,1510 Z" fill="#64ffff" stroke="#000" stroke-width="1.8" stroke-linejoin="round"/>
<path d="M1315,1477.5 1325,1475 1330,1500 1325,1505 1317.5,1490 Z" fill="#64ffff" stroke="#000" stroke-width="1.8" stroke-linejoin="round"/>
<path d="M1385,1442.5 1400,1440 1407.5,1450 1397.5,1455 1387.5,1450 Z" fill="#64ffff" stroke="#000" stroke-width="1.8" stroke-linejoin="round"/>
<path d="M1445,1560 1460,1555 1455,1572.5 1445,1575 Z" fill="#64ffff" stroke="#000" stroke-width="1.8" stroke-linejoin="round"/>
<path d="M1320,1585 1330,1592.5 1375,1592.5 1425,1580 1432.5,1600 1312.5,1600 Z" fill="#64ffff" stroke="#000" stroke-width="1.8" stroke-linejoin="round"/>
<path d="M1137.5,1402.5 1147.5,1397.5 1150,1407.5 1142.5,1417.5 Z" fill="#64ffff" stroke="#000" stroke-width="1.8" stroke-linejoin="round"/>
<path d="M980,1487.5 992.5,1485 997.5,1492.5 982.5,1497.5 Z" fill="#64ffff" stroke="#000" stroke-width="1.8" stroke-linejoin="round"/>
<path d="M1080,1455 1087.5,1457.5 1085,1462.5 1080,1462.5 Z" fill="#64ffff" stroke="#000" stroke-width="1.8" stroke-linejoin="round"/>
<path d="M1272.5,1355 1280,1352.5 1277.5,1365 Z" fill="#64ffff" stroke="#000" stroke-width="1.8" stroke-linejoin="round"/>
<path d="M1555,1537.5 1575,1535 1625,1550 1625,1575 1570,1557.5 Z" fill="#c8ffff" stroke="#000" stroke-width="1.3" stroke-linejoin="round"/>
<path d="M1487.5,1410 1505,1370 1625,1332.5 1625,1525 1575,1512.5 1550,1500 1532.5,1495 1525,1520 1512.5,1517.5 1507.5,1487.5 1495,1450 Z" fill="#50a0ff" stroke="#000" stroke-width="1.8" stroke-linejoin="round"/>
<path d="M1317.8,1318.9 1331.1,1312.2 1342.2,1318.9 1337.8,1332.2 1322.2,1330 Z" fill="#50a0ff" stroke="#000" stroke-width="1.8" stroke-linejoin="round"/>
<path d="M1328.9,1323.3 1337.8,1321.1 1340,1327.8 1331.1,1327.8 Z" fill="#0080ff" stroke="#000" stroke-width="1.2" stroke-linejoin="round"/>
<path d="M283.3,1432.2 305.6,1427.8 307.8,1398.9 321.1,1378.9 336.7,1370 352.2,1374.4 367.8,1394.4 390,1412.2 412.2,1407.8 421.1,1378.9 434.4,1358.9 450,1345.6 456.7,1325.6 458.9,1305.6 465.6,1294.4 492.2,1296.7 521.1,1298.9 545.6,1283.3 558.9,1287.8 581.1,1310 590,1327.8 598.9,1327.8 603.3,1303.3 616.7,1292.2 647.8,1281.1 661.1,1270 670,1250 677.8,1244.4 695.6,1233.3 702.2,1211.1 706.7,1197.8 733.3,1197.8 744.4,1211.1 755.6,1226.7 773.3,1235.6 800,1242.2 813.3,1248.9" fill="none" stroke="#000" stroke-width="4.5" stroke-linejoin="round" stroke-linecap="round"/>
<path d="M410,1552.2 412.2,1527.8 412.2,1496.7 425.6,1496.7 430,1512.2 470,1510 512.2,1525.6" fill="none" stroke="#000" stroke-width="4.5" stroke-linejoin="round" stroke-linecap="round"/>
<path d="M875.6,1235.6 877.8,1222.2 844.4,1222.2 835.6,1195.6 831.1,1184.4 811.1,1182.2 802.2,1166.7 808.9,1157.8 826.7,1153.3 833.3,1162.2 855.6,1164.4 906.7,1160 926.7,1173.3 931.1,1204.4 935.6,1213.3 964.4,1202.2" fill="none" stroke="#000" stroke-width="4.5" stroke-linejoin="round" stroke-linecap="round"/>
<path d="M1066.7,1123.3 1108.3,1115 1141.7,1108.3 1166.7,1118.3 1180,1133.3 1181.7,1160 1193.3,1163.3 1210,1158.3 1208.3,1133.3 1223.3,1115 1235,1113.3 1235.6,1114.4 1240,1127.8 1264.4,1136.7 1284.4,1138.9 1300,1138.9 1304.4,1134.4 1293.3,1123.3 1282.2,1116.7 1280,1107.8 1291.1,1103.3 1297.8,1110 1311.1,1118.9 1320,1127.8 1337.8,1118.9 1353.3,1118.9 1368.9,1127.8 1388.9,1127.8 1395.6,1143.3 1408.9,1152.2 1422.2,1158.9 1417.8,1172.2 1404.4,1174.4 1395.6,1163.3" fill="none" stroke="#000" stroke-width="4.5" stroke-linejoin="round" stroke-linecap="round"/>
<path d="M1066.7,1123.3 1065,1133.3 1076.7,1143.3 1088.3,1148.3 1116.7,1146.7 1138.3,1136.7 1150,1133.3 1158.3,1143.3 1158.3,1158.3 1150,1166.7 1133.3,1170 1110,1166.7 1091.7,1165 1076.7,1170 1058.3,1165 1046.7,1151.7 1040,1156.7 1038.3,1180 1046.7,1190 1060,1200 1063.3,1210 1053.3,1225 1050,1236.7" fill="none" stroke="#000" stroke-width="4.5" stroke-linejoin="round" stroke-linecap="round"/>
<path d="M1060,1243.3 1070,1220 1086.7,1208.3 1103.3,1211.7 1120,1223.3 1136.7,1240 1145,1266.7 1158.3,1280 1180,1288.3 1193.3,1301.7 1196.7,1316.7 1205,1330 1215,1326.7 1218.3,1313.3 1230,1306.7 1243.3,1308.3 1250,1316.7 1250,1333.3 1253.3,1348.3 1233.3,1350 1220,1343.3 1186.7,1346.7" fill="none" stroke="#000" stroke-width="4.5" stroke-linejoin="round" stroke-linecap="round"/>
<path d="M1408.9,1123.3 1422.2,1114.4 1440,1110 1451.1,1116.7 1457.8,1134.4 1473.3,1147.8 1502.2,1150 1522.2,1156.7" fill="none" stroke="#000" stroke-width="4.5" stroke-linejoin="round" stroke-linecap="round"/>
<path d="M1560,1125.6 1568.9,1112.2 1582.2,1107.8 1600,1107.8" fill="none" stroke="#000" stroke-width="4.5" stroke-linejoin="round" stroke-linecap="round"/>
<path d="M1311.1,1194.4 1320,1176.7 1328.9,1183.3 1333.3,1198.9 1346.7,1205.6 1366.7,1214.4 1388.9,1214.4 1393.3,1225.6 1388.9,1196.7 1400,1194.4 1422.2,1190 1444.4,1183.3 1446.7,1165.6 1440,1145.6 1442.2,1134.4 1413.3,1127.8 1411.1,1118.9 1420,1114.4" fill="none" stroke="#000" stroke-width="4.5" stroke-linejoin="round" stroke-linecap="round"/>
<path d="M650.6,1604.4 640.8,1577.2 642.8,1569.4 654.4,1563.6 685.6,1575.3 716.7,1559.7 743.9,1561.7 755.6,1592.8 759.4,1604.4" fill="none" stroke="#000" stroke-width="4.5" stroke-linejoin="round" stroke-linecap="round"/>
<path d="M856.7,1522.8 856.7,1540.3 833.3,1548.1 813.9,1553.9 802.2,1569.4 790.6,1577.2 794.4,1581.1 802.2,1581.1 808,1604.4" fill="none" stroke="#000" stroke-width="4.5" stroke-linejoin="round" stroke-linecap="round"/>
<path d="M438.3,1545 430,1535 416.7,1533.3 408.3,1528.3 411.7,1505 416.7,1493.3 426.7,1496.7 430,1510 443.3,1515 480,1510 511.7,1526.7" fill="none" stroke="#000" stroke-width="4.5" stroke-linejoin="round" stroke-linecap="round"/>
<path d="M410,1550 428.3,1546.7" fill="none" stroke="#000" stroke-width="4.5" stroke-linejoin="round" stroke-linecap="round"/>
<path d="M791.7,534.2 793.3,510 800,506.7 806.7,510 808.3,534.2" fill="none" stroke="#000" stroke-width="3.8" stroke-linejoin="round" stroke-linecap="round"/>
<path d="M1280,1056.7 1291.1,1050 1302.2,1061.1 1300,1092.2 1288.9,1098.9 1277.8,1087.8 1280,1056.7" fill="none" stroke="#000" stroke-width="3.8" stroke-linejoin="round" stroke-linecap="round"/>
<path d="M1344.4,1050 1355.6,1047.8 1364.4,1065.6 1362.2,1085.6 1344.4,1090 1342.2,1074.4 1344.4,1050" fill="none" stroke="#000" stroke-width="3.8" stroke-linejoin="round" stroke-linecap="round"/>
<path d="M1308.9,1092.2 1328.9,1085.6 1335.6,1092.2 1333.3,1105.6 1320,1112.2 1308.9,1105.6 1308.9,1092.2" fill="none" stroke="#000" stroke-width="3.8" stroke-linejoin="round" stroke-linecap="round"/>
<path d="M1326.7,1201.1 1342.2,1201.1 1344.4,1230 1333.3,1227.8 1326.7,1216.7 1326.7,1201.1" fill="none" stroke="#000" stroke-width="3.8" stroke-linejoin="round" stroke-linecap="round"/>
<path d="M1255.6,1227.8 1266.7,1223.3 1273.3,1232.2 1268.9,1243.3 1257.8,1243.3 1255.6,1227.8" fill="none" stroke="#000" stroke-width="3.8" stroke-linejoin="round" stroke-linecap="round"/>
<path d="M1106.7,1041.7 1111.7,1038.3 1115,1043.3 1113.3,1051.7 1110,1053.3 1106.7,1048.3 1106.7,1041.7" fill="none" stroke="#000" stroke-width="3.8" stroke-linejoin="round" stroke-linecap="round"/>
<path d="M1090,1076.7 1100,1071.7 1108.3,1073.3 1113.3,1083.3 1110,1096.7 1100,1101.7 1091.7,1100 1090,1086.7 1090,1076.7" fill="none" stroke="#000" stroke-width="3.8" stroke-linejoin="round" stroke-linecap="round"/>
<path d="M1123.3,1065 1130,1061.7 1135,1066.7 1136.7,1076.7 1126.7,1081.7 1116.7,1078.3 1121.7,1071.7 1123.3,1065" fill="none" stroke="#000" stroke-width="3.8" stroke-linejoin="round" stroke-linecap="round"/>
<path d="M950,1305 965,1275 985,1275 1000,1287.5 1005,1307.5 995,1330 977.5,1330 955,1325 950,1305" fill="none" stroke="#000" stroke-width="3.8" stroke-linejoin="round" stroke-linecap="round"/>
<path d="M1340,1287.8 1360,1278.9 1382.2,1287.8 1384.4,1305.6 1368.9,1316.7 1348.9,1312.2 1340,1298.9 1340,1287.8" fill="none" stroke="#000" stroke-width="3.8" stroke-linejoin="round" stroke-linecap="round"/>
<path d="M1220,1316.7 1230,1310 1246.7,1310 1258.3,1305 1260,1316.7 1256.7,1350 1236.7,1353.3 1221.7,1348.3 1220,1316.7" fill="none" stroke="#000" stroke-width="3.8" stroke-linejoin="round" stroke-linecap="round"/>
<path d="M840,586.7 860,589.3 885.3,588 896,593.3" fill="none" stroke="#000" stroke-width="2.6" stroke-linejoin="round" stroke-linecap="round"/>
<path d="M901.3,556 902.7,580" fill="none" stroke="#000" stroke-width="2.6" stroke-linejoin="round" stroke-linecap="round"/>
<path d="M882.7,612 893.3,609.3" fill="none" stroke="#000" stroke-width="2.4" stroke-linejoin="round" stroke-linecap="round"/>
<path d="M790,215.8 800,218.3 813.3,221.7 826.7,215 838.3,213.3" fill="none" stroke="#000" stroke-width="2.6" stroke-linejoin="round" stroke-linecap="round"/>
<path d="M790,215.8 800,218.3 813.3,221.7 826.7,215 838.3,213.3" fill="none" stroke="#fff" stroke-width="1.0" stroke-linejoin="round" stroke-linecap="round"/>
<path d="M793.3,221.7 806.7,228.3 826.7,231.7 840,235" fill="none" stroke="#000" stroke-width="2.6" stroke-linejoin="round" stroke-linecap="round"/>
<path d="M793.3,221.7 806.7,228.3 826.7,231.7 840,235" fill="none" stroke="#fff" stroke-width="1.0" stroke-linejoin="round" stroke-linecap="round"/>
<path d="M775,240 793.3,238.3 803.3,241.7 813.3,245" fill="none" stroke="#000" stroke-width="2.6" stroke-linejoin="round" stroke-linecap="round"/>
<path d="M775,240 793.3,238.3 803.3,241.7 813.3,245" fill="none" stroke="#fff" stroke-width="1.0" stroke-linejoin="round" stroke-linecap="round"/>
<path d="M803.3,210 816.7,216.7 826.7,225 838.3,233.3 840.8,235.8" fill="none" stroke="#000" stroke-width="2.6" stroke-linejoin="round" stroke-linecap="round"/>
<path d="M803.3,210 816.7,216.7 826.7,225 838.3,233.3 840.8,235.8" fill="none" stroke="#fff" stroke-width="1.0" stroke-linejoin="round" stroke-linecap="round"/>
<path d="M755,253.3 770,255 783.3,261.7 793.3,263.3 803.3,265" fill="none" stroke="#000" stroke-width="2.6" stroke-linejoin="round" stroke-linecap="round"/>
<path d="M755,253.3 770,255 783.3,261.7 793.3,263.3 803.3,265" fill="none" stroke="#fff" stroke-width="1.0" stroke-linejoin="round" stroke-linecap="round"/>
<path d="M760,266.7 773.3,273.3 778.3,271.7" fill="none" stroke="#000" stroke-width="2.6" stroke-linejoin="round" stroke-linecap="round"/>
<path d="M760,266.7 773.3,273.3 778.3,271.7" fill="none" stroke="#fff" stroke-width="1.0" stroke-linejoin="round" stroke-linecap="round"/>
<path d="M723.3,290 733.3,287.5 743.3,286.7 755,291.3 770,293.3 783.3,290" fill="none" stroke="#000" stroke-width="2.6" stroke-linejoin="round" stroke-linecap="round"/>
<path d="M723.3,290 733.3,287.5 743.3,286.7 755,291.3 770,293.3 783.3,290" fill="none" stroke="#fff" stroke-width="1.0" stroke-linejoin="round" stroke-linecap="round"/>
<path d="M726.7,320 736.7,321.7 746.7,323.3" fill="none" stroke="#000" stroke-width="2.6" stroke-linejoin="round" stroke-linecap="round"/>
<path d="M726.7,320 736.7,321.7 746.7,323.3" fill="none" stroke="#fff" stroke-width="1.0" stroke-linejoin="round" stroke-linecap="round"/>
<path d="M721.7,341.7 730,340.8 738.3,340 751.7,338.3 770,341.7 783.3,338.3 793.3,335 803.3,336.7" fill="none" stroke="#000" stroke-width="2.6" stroke-linejoin="round" stroke-linecap="round"/>
<path d="M721.7,341.7 730,340.8 738.3,340 751.7,338.3 770,341.7 783.3,338.3 793.3,335 803.3,336.7" fill="none" stroke="#fff" stroke-width="1.0" stroke-linejoin="round" stroke-linecap="round"/>
<path d="M781.7,321.7 778.3,333.3 786.7,338.3" fill="none" stroke="#000" stroke-width="2.6" stroke-linejoin="round" stroke-linecap="round"/>
<path d="M781.7,321.7 778.3,333.3 786.7,338.3" fill="none" stroke="#fff" stroke-width="1.0" stroke-linejoin="round" stroke-linecap="round"/>
<path d="M806.7,316.7 800,325 796.7,333.3" fill="none" stroke="#000" stroke-width="2.6" stroke-linejoin="round" stroke-linecap="round"/>
<path d="M806.7,316.7 800,325 796.7,333.3" fill="none" stroke="#fff" stroke-width="1.0" stroke-linejoin="round" stroke-linecap="round"/>
<path d="M733.3,396.7 746.7,391.7 755,395" fill="none" stroke="#000" stroke-width="2.6" stroke-linejoin="round" stroke-linecap="round"/>
<path d="M733.3,396.7 746.7,391.7 755,395" fill="none" stroke="#fff" stroke-width="1.0" stroke-linejoin="round" stroke-linecap="round"/>
<path d="M740,406.7 750,408.3 763.3,400 773.3,391.7 790,380 793.3,376.7" fill="none" stroke="#000" stroke-width="2.6" stroke-linejoin="round" stroke-linecap="round"/>
<path d="M740,406.7 750,408.3 763.3,400 773.3,391.7 790,380 793.3,376.7" fill="none" stroke="#fff" stroke-width="1.0" stroke-linejoin="round" stroke-linecap="round"/>
<path d="M733.3,426.7 750,421.7 766.7,421.7" fill="none" stroke="#000" stroke-width="2.6" stroke-linejoin="round" stroke-linecap="round"/>
<path d="M733.3,426.7 750,421.7 766.7,421.7" fill="none" stroke="#fff" stroke-width="1.0" stroke-linejoin="round" stroke-linecap="round"/>
<path d="M745,448.3 758.3,443.3 773.3,440" fill="none" stroke="#000" stroke-width="2.6" stroke-linejoin="round" stroke-linecap="round"/>
<path d="M745,448.3 758.3,443.3 773.3,440" fill="none" stroke="#fff" stroke-width="1.0" stroke-linejoin="round" stroke-linecap="round"/>
<path d="M755,473.3 770,470 778.3,466.7" fill="none" stroke="#000" stroke-width="2.6" stroke-linejoin="round" stroke-linecap="round"/>
<path d="M755,473.3 770,470 778.3,466.7" fill="none" stroke="#fff" stroke-width="1.0" stroke-linejoin="round" stroke-linecap="round"/>
<path d="M750,360 740,366.7 743.3,376.7 750,383.3" fill="none" stroke="#000" stroke-width="2.6" stroke-linejoin="round" stroke-linecap="round"/>
<path d="M750,360 740,366.7 743.3,376.7 750,383.3" fill="none" stroke="#fff" stroke-width="1.0" stroke-linejoin="round" stroke-linecap="round"/>
</g>
<path d="M411.7,496.7 421.7,498.3 422.5,505 430,500 433.3,505 436.7,501.7 453.3,498.3 463.3,495 475,495 473.3,508.3 460,520 450,528.3 440,528.3 430.8,536.7 430,550 431.7,559.2 438.3,563.3 446.7,556.7 458.3,551.7 480,551.7 506.7,552.5 511.7,558.3 513.3,566.7 506.7,580 503.3,595 496.7,608.3 490,616.7 476.7,623.3 468.3,629.2 480,625 488.3,633.3 480,640 471.7,646.7 453.3,647.5 475,651.7 486.7,646.7 503.3,655 513.3,670 520,673.3 523.3,696.7 530,710 538.3,725 551.7,733.3 530,715 540,726.7 553.3,735 561.7,748.3 568.3,753.3 563.3,758.3 568.3,770 575,781.7 563.3,775 548.3,775.8 566.7,783.3 573.3,803.3 568.3,816.7 573.3,830 583.3,820 590,815 606.7,815 623.3,825 625,838.3 621.7,853.3 611.7,865 606.7,873.3 588.3,878.3 586.7,890 598.3,898.3 613.3,895 615,906.7 603.3,913.3 590,920 576.7,928.3 560,925 543.3,925 533.3,933.3 520,931.7 506.7,931.7 493.3,936.7 480,930 461.7,933.3 456.7,946.7 451.7,955 453.3,951.7 430,950 418.3,955 406.7,965 393.3,961.7 391.7,955 403.3,950 411.7,943.3 416.7,936.7 425,920 430,911.7 446.7,903.3 471.7,900 480,888.3 495,876.7 473.3,893.3 463.3,895 453.3,891.7 443.3,883.3 436.7,880 423.3,883.3 410,880 413.3,875 406.7,870 413.3,865 441.7,848.3 443.3,836.7 440,818.3 421.7,823.3 435,803.3 426.7,796.7 426.7,791.7 441.7,795 446.7,796.7 466.7,791.7 473.3,796.7 483.3,795 476.7,783.3 475,763.3 480,751.7 468.3,750 456.7,730 460,716.7 475,707.5 460,706.7 443.3,716.7 433.3,711.7 430,718.3 416.7,713.3 415,725 410,720 408.3,705 411.7,700 420,686.7 423.3,675 416.7,666.7 416.7,643.3 410,650 401.7,660 396.7,688.3 390,683.3 393.3,650 395,643.3 393.3,633.3 393.3,626.7 381.7,616.7 393.3,613.3 388.3,605 393.3,600 386.7,593.3 400,586.7 390,580 398.3,570 386.7,565 396.7,560.8 386.7,556.7 388.3,543.3 409.2,541.7 400,533.3 403.3,530 401.7,520 410,518.3 408.3,508.3 ZM338.3,685 351.7,691.7 350,696.7 366.7,692.5 380,695 383.3,710 390,715 390,721.7 396.7,725 398.3,736.7 390,746.7 380,755 371.7,760 373.3,773.3 376.7,783.3 376.7,796.7 380,810 376.7,830 370,846.7 368.3,853.3 350,853.3 330,860 310,871.7 296.7,880 280,886.7 263.3,891.7 251.7,885 265,871.7 245,871.7 260,858.3 241.7,856.7 245,850 260,848.3 263.3,836.7 258.3,835 275,826.7 290,830 278.3,823.3 273.3,810 280,805 288.3,800 268.3,800 260,795 250,786.7 251.7,781.7 263.3,780 256.7,773.3 266.7,766.7 248.3,760 255,755 251.7,746.7 258.3,743.3 280,743.3 283.3,746.7 300,743.3 301.7,738.3 311.7,733.3 310,726.7 296.7,725 293.3,720 306.7,715 305,701.7 323.3,693.3 330,695 333.3,705 336.7,698.3 ZM373.3,503.3 376.7,520 370,530 355,548.3 346.7,543.3 353.3,526.7 346.7,520 355,518.3 ZM333.3,555 346.7,553.3 343.3,566.7 343.3,586.7 337.5,586.7 336.7,566.7 ZM368.3,553.3 376.7,563.3 380,576.7 396.7,576.7 398.3,586.7 385,591.7 373.3,576.7 366.7,566.7 ZM370,616.7 385,606.7 393.3,623.3 390,633.3 371.7,631.7 ZM366,663.3 380,673.3 378.3,660 390,641.7 380,655 370,655 ZM401.7,666.7 408.3,665 410,678.3 405,681.7 400.8,676.7 ZM465,466.7 471.7,465 481.7,475 483.3,480 475,480 470,473.3 ZM463.3,478.3 470,483.3 470,486.7 465,485 ZM421.7,755 428.3,738.3 433.3,740 433.3,746.7 426.7,755 ZM517,363 525,360 527,372 533,365 545,357 546,365 538,372 535,385 537,395 532,418 528,420 528,395 520,385 520,373 ZM348,262 356,258 362,270 356,278 ZM354,286 360,288 358,296 352,294 ZM352,305 358,308 360,322 354,320 ZM823.3,196.7 823.3,201.7 806.7,206.7 790,215 793.3,221.7 781.7,231.7 770,240 776.7,245 755,253.3 745,263.3 731.7,268.3 740,278.3 723.3,290 726.7,296.7 733.3,293.3 728.3,320 726.7,338.3 721.7,341.7 728.3,346.7 726.7,360 725,383.3 726.7,393.3 731.7,400 733.3,423.3 730,433.3 733.3,450 733.3,463.3 743.3,473.3 746.7,486.7 743.3,490 750,503.3 763.3,511.7 778.3,518.3 780,526.7 791.7,533.3 808.3,531.7 828.3,526.7 843.3,510 860,494.1 867.8,482.4 875.6,474.7 883.3,475.4 892.7,470 897.3,457.6 902,453.7 902.4,446.7 897.3,442 894.2,428.8 898.9,431.1 899.7,440.4 903.6,437.3 902,423.3 908.2,417.9 909,422.6 904.3,431.1 905.9,443.6 907.4,454.4 911.3,462.2 916,464.6 924.6,466.9 921.4,471.6 922.2,477.8 923.8,485.6 925.3,501.1 924.6,512.8 931.6,519.8 940.1,514.3 944,519 942.4,540 941.7,550 948.3,566.7 953.3,576.7 956.7,593.3 965,600 975,615 971.7,625 966.7,633.3 973.3,650 983.3,666.7 980,683.3 980,683.3 990,685 1000,681.7 1016.7,683.3 1021.7,676.7 1018.3,660 1023.3,650 1031.7,646.7 1036.7,640 1050,641.7 1060,638.3 1070,643.3 1076.7,630 1081.7,616.7 1086.7,613.3 1090,588.3 1091.7,573.3 1095,566.7 1096.7,550 1095,540 1096.7,533.3 1100,520 1096.7,510 1103.3,503.3 1088.3,498.3 1083.3,495 1100,496.7 1110,490 1125,483.3 1133.3,480 1133.3,466.7 1146.7,455 1140,450 1150,446.7 1163.3,433.3 1170,420 1163.3,403.3 1148.3,393.3 1136.7,375 1126.7,376.7 1116.7,370 1111.7,350 1111.7,320 1110,306.7 1121.7,303.3 1118.3,283.3 1125,266.7 1120,260 1118.3,246.7 1126.7,248.3 1138.3,240 1141.7,228.3 1155,216.7 1148.3,211.7 1160,200 1160,196.7 ZM1240,195.6 1240,200 1251.1,208.9 1237.8,224.4 1235.6,244.4 1242.2,255.6 1240,280 1248.9,311.1 1246.7,333.3 1244.4,355.6 1251.1,373.3 1260,377.8 1266.7,386.7 1277.8,388.9 1293.3,391.1 1297.8,404.4 1315.6,413.3 1344.4,404.4 1366.7,395.6 1380,391.1 1400,384.4 1408.9,373.3 1413.3,382.2 1422.2,377.8 1433.3,375.6 1464.4,373.3 1475.6,366.7 1473.3,380 1486.7,397.8 1511.1,404.4 1522.2,413.3 1515.6,420 1488.9,413.3 1466.7,422.2 1457.8,426.7 1453.3,446.7 1433.3,446.7 1400,440 1382.2,433.3 1377.8,435.6 1351.1,442.2 1333.3,446.7 1315.6,460 1311.1,473.3 1315.6,475.6 1311.1,488.9 1315.6,506.7 1333.3,517.8 1342.2,511.1 1344.4,522.2 1337.8,533.3 1340,577.8 1333.3,591.1 1320,595.6 1311.1,591.1 1302.2,577.8 1297.8,560 1282.2,551.1 1262.2,555.6 1244.4,577.8 1240,600 1233.3,626.7 1235.6,644.4 1235.6,675.6 1233,683 1217,707 1203,708 1200,720 1213,723 1195,737 1178,740 1155,737 1152,720 1163,727 1147,713 1117,718 1092,730 1080,742 1057,748 1033,755 1017,763 1003,750 993,743 982,735 963,740 960,746.7 940,751.7 928.3,761.7 913.3,763.3 911.7,755 918.3,746.7 916.7,740 906.7,741.7 900,736.7 883.3,735 886.7,723.3 883.3,715 866.7,713.3 876.7,680 875,668.3 883.3,660 891.7,656.7 893.3,641.7 903.3,643.3 910,633.3 915,626.7 911.7,620 893.3,623.3 895,608.3 896.7,590 900,566.7 905,550 898.3,558.3 883.3,558.3 871.7,576.7 860,583.3 841.7,586.7 831.7,600 826.7,616.7 826.7,646.7 826.7,671.7 840,680 843.3,693.3 841.7,710 853.3,733.3 843.3,740 850,746.7 851.7,760 855,765 841.7,766.7 838.3,778.3 838.3,791.7 833.3,781.7 826.7,786.7 823.3,775 800,776.7 791.7,786.7 796.7,796.7 785,788.3 766.7,790 743.3,800 721.7,803.3 716.7,820 715,841.7 706.7,861.7 700,870 696.7,866.7 673.3,896.7 650,911.7 626.7,916.7 621.7,921.7 620,946.7 615,958.3 606.7,968.3 586.7,973.3 583.3,980 585,996.7 573.3,998.3 563.3,999.2 538.3,995 531.7,988.3 530,980 520,981.7 510,978.3 513.3,988.3 520,1001.7 521.7,1023.3 526.7,1030 513.3,1031.7 506.7,1026.7 493.3,1030 485,1036.7 471.7,1020 463.3,1020 450,1026.7 430,1026.7 420,1035 423.3,1046.7 436.7,1046.7 425,1053.3 435,1055 421.7,1058.3 433.3,1070 463.3,1073.3 471.7,1080 473.3,1085 480,1080 493.3,1083.3 495,1093.3 503.3,1095 515,1098.3 503.3,1100 505,1113.3 515,1126.7 533.3,1138.3 535,1146.7 538.3,1155 533.3,1163.3 546.7,1180 532.2,1216.7 527.8,1238.9 521.1,1270 525.6,1283.3 514.4,1270 492.2,1272.2 474.4,1267.8 458.9,1263.3 438.9,1266.7 407.8,1263.3 385.6,1258.9 350,1261.1 336.7,1254.4 321.1,1253.3 310,1261.1 290,1272.2 278.9,1278.9 281.1,1292.2 287.8,1305.6 292.2,1318.9 290,1332.2 296.7,1361.1 296.7,1381.1 290,1405.6 283.3,1430 274.4,1441.1 272.2,1465.6 278.9,1470 294.4,1474.4 292.2,1496.7 287.8,1532.2 316.7,1527.8 338.9,1525.6 350,1525 366.7,1530 370,1546.7 375,1555 383.3,1565 393.3,1570.8 400,1566.7 403.3,1558.3 413.3,1551.7 430,1545 443.3,1543.3 463.3,1544.2 483.3,1545 491.7,1540 500,1543.3 513.3,1528.3 523.3,1513.3 546.7,1508.3 543.3,1505 555,1480 559,1474 577,1461 561,1452 559,1434 592,1386 599,1370 639,1357 671.1,1333.3 671.1,1317.8 664.4,1291.1 666.7,1277.8 677.8,1271.1 695.6,1262.2 717.8,1264.4 733.3,1260 746.7,1255.6 755.6,1282.2 782.2,1268.9 795.6,1253.3 813.3,1248.9 831.1,1235.6 844.4,1224.4 866.7,1231.1 888.9,1242.2 897.8,1266.7 915.6,1300 924.4,1313.3 942.2,1328.9 955.6,1346.7 977.8,1360 1000,1366.7 1022.5,1385 1040,1397.5 1062.5,1405 1070,1422.5 1075,1447.5 1085,1457.5 1072.5,1465 1062.5,1482.5 1065,1495 1075,1495 1092.5,1477.5 1095,1462.5 1112.5,1452.5 1110,1435 1090,1417.5 1095,1397.5 1112.5,1395 1130,1405 1145,1417.5 1152.5,1410 1150,1400 1140,1387.5 1120,1375 1100,1362.5 1072.5,1347.5 1080,1335 1052.5,1330 1037.5,1322.5 1020,1305 1007.5,1272.5 997.5,1260 977.5,1247.5 960,1237.5 955,1220 957.5,1200 960,1173 975,1167 983,1165 997,1167 1008,1180 1020,1190 1023,1203 1037,1217 1043,1233 1050,1247 1075,1262.5 1100,1280 1120,1292.5 1150,1307.5 1176.7,1320 1183.3,1331.7 1188.3,1341.7 1183.3,1356.7 1186.7,1375 1180,1395 1192.5,1415 1190,1425 1200,1437.5 1222.5,1450 1235,1457.5 1222.5,1465 1225,1475 1212.5,1485 1232.5,1482.5 1250,1500 1255,1520 1267.5,1530 1277.5,1555 1287.5,1540 1300,1555 1295,1530 1300,1515 1290,1510 1282.5,1495 1300,1492.5 1310,1505 1330,1510 1322.5,1490 1310,1475 1300,1465 1282.5,1457.5 1300,1460 1325,1470 1330,1475 1315,1450 1295,1440 1285,1415 1282.5,1390 1295,1387.5 1305,1400 1320,1407.5 1320,1390 1325,1377.5 1350,1375 1375,1385 1395,1385 1400,1400 1397.5,1420 1395,1427.5 1420,1432.5 1407.5,1445 1422.5,1457.5 1420,1475 1412.5,1490 1425,1505 1427.5,1525 1450,1535 1462.5,1535 1450,1545 1465,1545 1482.5,1557.5 1505,1565 1525,1550 1550,1537.5 1575,1542.5 1600,1562.5 1615,1562 1615,1335 1600,1335 1575,1350 1560,1365 1525,1365 1490,1362.5 1470,1355 1455,1337.5 1452.5,1322.5 1437.5,1307.5 1440,1278.9 1444.4,1267.8 1457.8,1247.8 1471.1,1232.2 1477.8,1214.4 1488.9,1203.3 1500,1174.4 1511.1,1163.3 1531.1,1145.6 1542.2,1125.6 1564.4,1127.8 1575.6,1123.3 1600,1121 1615,1121 1615,185 1240,185 ZM378,1605 385,1580 400,1576 405,1587 417,1605 525,1605 526.1,1600 551.4,1581.1 580.6,1565.6 600,1553.9 623.3,1550 644.7,1548.1 650.6,1550 662.2,1540.3 689.4,1536.4 722.5,1537.4 736.1,1546.1 751.7,1538.3 771.1,1530.6 776.9,1530.6 798.3,1530.6 813.9,1536.4 827.5,1536.4 856.7,1526.7 876.1,1518.9 881.9,1522.8 880,1526.7 891.7,1526.7 887.8,1530.6 895.5,1536.4 891.7,1542.2 903.3,1538.3 915,1530.6 918.9,1534.4 915,1561.7 901.4,1569.4 918.9,1585 918.9,1604.4 ZM878.3,678.3 895,671.7 903.3,675 910,683.3 911.7,696.7 905,705 893.3,703.3 881.7,693.3 ZM915,665 926.7,651.7 938.3,650 953.3,643.3 966.7,650 965,666.7 955,675 963.3,686.7 953.3,698.3 960,706.7 946.7,706.7 930,693.3 923.3,680 921.7,666.7 ZM918.3,710 933.3,713.3 953.3,713.3 946.7,726.7 930,720 918.3,716.7 ZM1088.3,636.7 1093.3,605 1106.7,573.3 1110,573.3 1100,606.7 1091.7,636.7 ZM1141.7,596.7 1143.3,583.3 1141.7,563.3 1151.7,550 1160,538.3 1178.3,535 1168.3,543.3 1163.3,550 1161.7,570 1156.7,580 1148.3,590 ZM1033.3,690 1048.3,698.3 1045,705 1035,701.7 ZM1266.7,477.8 1282.2,468.9 1295.6,480 1293.3,486.7 1282.2,491.1 1271.1,484.4 ZM1260,504.4 1277.8,497.8 1302.2,497.8 1304.4,506.7 1288.9,515.6 1271.1,522.2 1266.7,535.6 1260,517.8 ZM1186.7,391.7 1196.7,386.7 1210,393.3 1206.7,400 1195,405 1188.3,401.7 ZM842.5,1310 857.5,1300 867.5,1292.5 872.5,1310 870,1335 860,1355 850,1345 845,1325 ZM827.5,1375 840,1377.5 857.5,1365 872.5,1362.5 877.5,1380 875,1440 867.5,1447.5 850,1457.5 837.5,1455 832.5,1425 830,1395 ZM965,1492.5 982.5,1487.5 1000,1492.5 1030,1487.5 1060,1482.5 1050,1507.5 1052.5,1532.5 1045,1545 1025,1537.5 995,1520 970,1507.5 ZM1312.5,1600 1320,1585 1330,1592.5 1375,1592.5 1425,1580 1432.5,1600 ZM646.7,1426.7 663.3,1416.7 680,1423.3 676.7,1433.3 666.7,1440 650,1433.3 ZM610,1453.3 620,1450 621.7,1456.7 613.3,1461.7 ZM691.7,1410 700,1410 706.7,1418.3 696.7,1416.7 ZM1573,1135 1600,1124 1600,1150 1585,1152 ZM1385,1442.5 1400,1440 1407.5,1450 1397.5,1455 1387.5,1450 ZM1387.5,1470 1395,1472.5 1392.5,1485 1387.5,1480 ZM1445,1560 1460,1555 1455,1572.5 1445,1575 ZM1315,1477.5 1322.5,1475 1335,1490 1330,1505 1322.5,1497.5 ZM985,448 1000,448 1013,452 1015,467 1012,480 1007,487 997,495 983,498 967,505 960,508 962,495 971,484 975,470 985,473 ZM1076.7,445 1093.3,438.3 1110,445 1123.3,436.7 1131.7,443.3 1141.7,448.3 1158.3,451.7 1150,455 1133.3,453.3 1115,453.3 1100,446.7 1083.3,446.7 ZM1511.1,328.9 1522.2,315.6 1542.2,297.8 1560,308.9 1577.8,324.4 1597.8,342.2 1597.8,400 1577.8,400 1564.4,404.4 1557.8,415.6 1551.1,413.3 1544.4,395.6 1528.9,368.9 1524.4,351.1 ZM731.7,810 740,808.3 750,820 753.3,835 741.7,846.7 731.7,836.7 ZM1400,1400 1415,1385 1445,1375 1485,1370 1512.5,1380 1490,1392.5 1450,1400 1425,1405 1402.5,1422.5 ZM1088.3,1270 1100,1269.2 1101.7,1273.3 1089.2,1274.2 ZM1088.3,1277.5 1103.3,1278.3 1105,1280.8 1090,1280 ZM1096.7,1286.7 1116.7,1285.8 1120,1289.2 1098.3,1289.2 ZM1118.3,1295 1128.3,1296.7 1129.2,1299.2 1119.2,1297.5 ZM1076.7,1282.5 1081.7,1282.5 1081.7,1285 1076.7,1285 ZM1343.8,1380 1350,1378.8 1352.5,1386.2 1346.2,1388.8 ZM1373.8,1391.2 1380,1391.2 1380,1395 1373.8,1395 ZM1380,1403.8 1388.8,1402.5 1390,1407.5 1381.2,1408.8 ZM1360,1412.5 1372.5,1411.2 1371.2,1420 1361.2,1420 ZM1307.5,1402.5 1317.5,1400 1322.5,1412.5 1312.5,1415 ZM1320,1400 1330,1397.5 1337.5,1407.5 1325,1412.5 ZM1340,1455 1345,1453.8 1348.8,1462.5 1343.8,1462.5 ZM1335,1507.5 1340,1506.2 1341.2,1512.5 1336.2,1512.5 ZM1350,1495 1357.5,1497.5 1362.5,1510 1355,1507.5 ZM1362.5,1527.5 1370,1526.2 1370,1532.5 1363.8,1533.8 ZM1371.2,1525 1377.5,1525 1377.5,1535 1371.2,1535 ZM1390,1508.8 1400,1507.5 1400,1512.5 1391.2,1512.5 ZM1410,1502.5 1422.5,1501.2 1422.5,1507.5 1411.2,1507.5 ZM1337.5,1542.5 1343.8,1542.5 1343.8,1547.5 1337.5,1547.5 ZM1367.5,1542.5 1371.2,1542.5 1371.2,1547.5 1367.5,1547.5 ZM1397.5,1547.5 1403.8,1546.2 1405,1551.2 1398.8,1552.5 ZM1420,1532.5 1427.5,1531.2 1435,1535 1425,1537.5 ZM1432.5,1525 1442.5,1527.5 1440,1532.5 1432.5,1531.2 ZM1462.5,1437.5 1472.5,1435 1475,1442.5 1465,1445 ZM1466.2,1492.5 1475,1490 1475,1497.5 1466.2,1500 ZM1292.5,1557.5 1297.5,1557.5 1298.8,1565 1293.8,1566.2 ZM1212.5,1475 1222.5,1472.5 1225,1487.5 1215,1490 ZM1220,1497.5 1227.5,1496.2 1230,1505 1221.2,1505 ZM1425,1580 1427.5,1580 1427.5,1592.5 1425,1592.5 ZM830.7,609.3 840,593.3 856,590.7 862.7,596 860,602.7 864,614.7 857.3,614.7 853.3,606.7 845.3,614.7 840,620 832,614.7 ZM826.7,645.3 832,646.7 834.7,654.7 829.3,660 826.7,657.3 ZM913.3,576 920,573.3 924,574.7 917.3,578.7 Z" fill="none" stroke="#000" stroke-width="1.1" stroke-linejoin="round"/>
<path d="M950,200 955,213.3 950,220 951.7,241.7 956.7,256.7 953.3,293.3 963.3,306.7 975,323.3 970,343.3 956.7,346.7 966.7,380 960,416.7 943.3,421.7 945.6,429.6 937.8,437.3 942.4,450.6 941.7,462.2 937,478.6 931.6,480.1M1555.6,200 1566.7,217.8 1553.3,246.7 1506.7,304.4 1466.7,355.6 1451.1,373.3M1435.6,448.9 1438.9,451.1 1435.6,488.9 1440,522.2 1444.4,540 1435.6,548.9 1433.3,560 1446.7,575.6 1446.7,600M1337.8,535.6 1362.2,531.1 1368.9,531.1 1388.9,546.7 1411.1,562.2 1431.1,560 1435.6,548.9M1435.6,560 1448.9,573.3 1444.4,600 1451.1,615.6 1460,633.3 1457.8,642.2M1235.6,644.4 1242.2,635.6 1262.2,626.7 1284.4,626.7 1297.8,628.9 1320,631.1 1333.3,633.3 1355.6,624.4 1362.2,637.8 1377.8,642.2 1388.9,651.1 1404.4,666.7 1417.8,664.4 1431.1,657.8 1442.2,655.6 1457.8,642.2 1466.7,644.4 1477.8,644.4 1486.7,648.9 1500,664.4 1511.1,657.8 1528.9,660 1537.8,668.9 1542.2,688.9 1542.2,715.6 1551.1,733.3 1560,742.2 1573.3,748.9 1573.3,768.9 1595.6,775.6 1600,782.2M1537.8,602.2 1548.9,615.6 1562.2,633.3 1562.2,653.3M1404.4,666.7 1408.9,686.7 1413.3,691.1 1400,697.8 1386.7,706.7 1382.2,724.4 1377.8,742.2 1371.1,744.4 1355.6,753.3 1337.8,762.2 1313.3,762.2M1235.6,691.1 1253.3,700 1273.3,702.2 1284.4,706.7 1291.1,715.6 1286.7,728.9 1288.9,737.8 1308.9,746.7 1311.1,762.2 1315.6,782.2 1324.4,804.4 1324.4,826.7 1304.4,844.4 1302.2,853.3 1315.6,862.2 1315.6,882.2 1320,906.7 1328.9,924.4 1324.4,942.2 1304.4,960M1200,737.8 1244.4,741.1 1288.9,740M1315.6,882.2 1333.3,871.1 1366.7,866.7 1391.1,871.1 1426.7,875.6 1444.4,891.1 1466.7,886.7 1488.9,893.3 1511.1,891.1 1533.3,900 1540,866.7 1577.8,857.8 1600,848.9M1555.6,811.1 1568.9,802.2 1582.2,806.7 1600,795.6M1564.4,826.7 1571.1,857.8M1018.9,756.7 1021.1,776.7 1025.6,794.4 1016.7,816.7 1032.2,834.4 1030,850 1036.7,867.8 1034.4,883.3 1045.6,901.1 1038.9,921.1 1023.3,914.4 1018.9,918.9 1003.3,923.3 990,934.4 961.1,945.6 952.2,950 963.3,972.2 967.8,982.2 978.9,990 1001.1,996.7 1014.4,1010 1025.6,1032.2 1043.3,1014.4 1070,1018.9 1096.7,1021.1 1127.8,1021.1 1150,1016.7M1038.9,921.1 1050,916.7 1058.9,925.6 1076.7,932.2 1083.3,945.6 1092.2,952.2 1105.6,945.6 1127.8,950 1132.2,963.3 1150,963.3M796.7,796.7 796.7,816.7 790,832.2 783.3,838.9 792.2,847.8 787.8,865.6 763.3,872.2 758.9,878.9 765.6,892.2 763.3,912.2 752.2,916.7 763.3,927.8 772.2,950 763.3,958.9 754.4,972.2 754.4,987.8 767.8,990 778.9,994.4 812.2,1010 827.8,1014.4 814.4,1050M650,911.7 653.3,925 666.7,925 675,938.3 685,941.7 696.7,953.3 703.3,966.7 716.7,961.7 723.3,976.7 730,975M715,840 730,846.7M808.9,1008.9 828.9,1013.3 822.2,1026.7 813.3,1037.8 808.9,1055.6 808.9,1077.8 795.6,1084.4 782.2,1097.8 773.3,1111.1 762.2,1124.4 764.4,1144.4 768.9,1135.6 784.4,1133.3 788.9,1144.4 791.1,1166.7 795.6,1177.8 786.7,1193.3 791.1,1211.1 786.7,1226.7 800,1231.1 813.3,1235.6 813.3,1248.9M828.9,1013.3 844.4,1008.9 862.2,1008.9 873.3,1000M795.6,1084.4 813.3,1082.2 833.3,1073.3 844.4,1073.3 866.7,1077.8 888.9,1088.9 902.2,1084.4 920,1088.9 944.4,1077.8 964.4,1073.3 986.7,1073.3 1000,1071.1M822.2,1142.2 842.2,1148.9 862.2,1153.3 871.1,1144.4 893.3,1142.2 920,1133.3 940,1124.4 960,1120 1000,1115.6M525.6,1283.3 547.8,1292.2 592.2,1294.4 614.4,1301.1 665.6,1305.6 676.7,1307.8M290,1327.8 314.4,1323.3 332.2,1334.4 363.3,1330 374.4,1345.6 361.1,1358.9 356.7,1367.8 354.4,1385.6 365.6,1416.7 358.9,1430 345.6,1443.3 350,1452.2 341.1,1461.1 352.2,1483.3 336.7,1505.6 336.7,1525.6M950,1108.3 960,1116.7 975,1123.3 1000,1128.3 1023.3,1131.7 1050,1126.7 1066.7,1121.7M1050,1120 1083.3,1130 1113.3,1150 1128.3,1158.3 1150,1165 1165,1156.7 1178.3,1153.3 1208.3,1146.7 1223.3,1146.7 1238.3,1131.7 1250,1123.3 1260,1096.7 1275,1080 1291.7,1065 1300,1060 1350,1063.3M1223.3,1146.7 1216.7,1155 1226.7,1170 1226.7,1178.3 1246.7,1190 1248.3,1205 1283.3,1216.7 1310,1233.3 1320,1250M1163.3,1158.3 1166.7,1170 1175,1195 1180,1210 1173.3,1233.3 1188.3,1243.3 1191.7,1250M950,1045 975,1046.7 991.7,1035 1000,1033.3 1023.3,1031.7 1036.7,1028.3 1043.3,1013.3 1060,1015 1083.3,1023.3 1093.3,1021.7 1108.3,1016.7 1123.3,1015 1136.7,1016.7 1143.3,1021.7 1150,1036.7 1163.3,1038.3 1173.3,1031.7 1188.3,1040 1210,1033.3 1250,1036.7M1093.3,1023.3 1090,1043.3 1086.7,1066.7 1083.3,1091.7 1076.7,1108.3 1066.7,1121.7M953.3,950 965,960 966.7,971.7 965,980 971.7,991.7 975,1000 983.3,1010 1000,1016.7 1025,1016.7M1066.7,1190 1100,1186.7 1116.7,1191.7 1146.7,1193.3 1163.3,1183.3 1181.7,1188.3M1317.8,950 1297.8,965.6 1286.7,983.3 1288.9,1010 1277.8,1014.4 1271.1,1038.9 1280,1050 1306.7,1058.9 1333.3,1065.6 1355.6,1072.2 1368.9,1065.6 1400,1054.4 1415.6,1043.3 1440,1092.2 1457.8,1127.8 1455.6,1145.6 1460,1172.2 1473.3,1183.3 1486.7,1176.7 1506.7,1167.8M1415.6,1043.3 1431.1,1043.3 1444.4,1038.9 1453.3,1045.6 1466.7,1054.4 1486.7,1056.7 1491.1,1074.4 1500,1083.3 1511.1,1118.9 1517.8,1134.4M1211.1,1178.9 1226.7,1181.1 1244.4,1194.4 1244.4,1212.2 1251.1,1230 1262.2,1238.9 1284.4,1232.2 1297.8,1236.7 1315.6,1234.4 1340,1243.3 1373.3,1232.2 1413.3,1236.7 1435.6,1250 1466.7,1245.6M1251.1,1230 1275.6,1252.2 1284.4,1272.2 1293.3,1283.3 1284.4,1310 1284.4,1327.8 1297.8,1350M1150,1270 1185,1272.5 1217.5,1287.5 1250,1312.5 1275,1325 1280,1355 1295,1350 1325,1347.5 1365,1357.5 1395,1350 1412.5,1327.5 1452.5,1322.5 1475,1325M1217.5,1352.5 1225,1367.5 1250,1365 1275,1357.5M1280,1355 1290,1345 1275,1325M1400,1350 1397.5,1385M957.5,1200 975,1247.5M842.5,1542.5 830,1565 832.5,1600M827.5,1553.9 833.3,1555.8 831.4,1604.4M651.1,910 675.6,894.4 693.3,903.3 702.2,896.7 724.4,887.8 733.3,896.7 753.3,905.6 760,914.4 751.1,923.3 764.4,927.8M753.3,954.4 762.2,954.4 775.6,972.2 773.3,990 755.6,990 751.1,972.2 753.3,954.4" fill="none" stroke="#000" stroke-width="0.9" stroke-linejoin="round"/>
<text x="302" y="278" class="c" textLength="99" lengthAdjust="spacingAndGlyphs">FAROE IS.</text>
<text x="819" y="404" class="c" textLength="94" lengthAdjust="spacingAndGlyphs">NORWAY</text>
<text x="980" y="429" class="c" textLength="90" lengthAdjust="spacingAndGlyphs">SWEDEN</text>
<text x="1298" y="354" class="c" textLength="90" lengthAdjust="spacingAndGlyphs">FINLAND</text>
<text x="1340" y="499" class="c" textLength="90" lengthAdjust="spacingAndGlyphs">ESTONIA</text>
<text x="1345" y="604" class="c" textLength="72" lengthAdjust="spacingAndGlyphs">LATVIA</text>
<text x="1278" y="688" class="c" textLength="112" lengthAdjust="spacingAndGlyphs">LITHUANIA</text>
<text x="1432" y="786" class="c" textLength="95" lengthAdjust="spacingAndGlyphs">BELARUS</text>
<text x="1535" y="463" class="c" textLength="70" lengthAdjust="spacingAndGlyphs">Northw</text>
<text x="1550" y="494" class="c" textLength="55" lengthAdjust="spacingAndGlyphs">Distri</text>
<text x="843" y="648" class="c" textLength="44" lengthAdjust="spacingAndGlyphs">DEN.</text>
<text x="281" y="823" class="c" textLength="90" lengthAdjust="spacingAndGlyphs">IRELAND</text>
<text x="733" y="867" class="c" textLength="62" lengthAdjust="spacingAndGlyphs">NETH.</text>
<text x="855" y="894" class="c" textLength="106" lengthAdjust="spacingAndGlyphs">GERMANY</text>
<text x="1146" y="866" class="c" textLength="87" lengthAdjust="spacingAndGlyphs">POLAND</text>
<text x="688" y="933" class="c" textLength="44" lengthAdjust="spacingAndGlyphs">BEL.</text>
<text x="993" y="976" class="c" textLength="86" lengthAdjust="spacingAndGlyphs">CZECHIA</text>
<text x="1163" y="1026" class="c" textLength="87" lengthAdjust="spacingAndGlyphs">SLOVAK.</text>
<text x="1512" y="1016" class="c" textLength="92" lengthAdjust="spacingAndGlyphs">UKRAINE</text>
<text x="1438" y="1081" class="c" textLength="45" lengthAdjust="spacingAndGlyphs">MOL.</text>
<text x="1014" y="1091" class="c" textLength="46" lengthAdjust="spacingAndGlyphs">AUS.</text>
<text x="1150" y="1110" class="c" textLength="65" lengthAdjust="spacingAndGlyphs">HUNG.</text>
<text x="597" y="1096" class="c" textLength="81" lengthAdjust="spacingAndGlyphs">FRANCE</text>
<text x="795" y="1124" class="c" textLength="70" lengthAdjust="spacingAndGlyphs">SWITZ.</text>
<text x="1002" y="1158" class="c" textLength="58" lengthAdjust="spacingAndGlyphs">SLOV.</text>
<text x="1307" y="1174" class="c" textLength="103" lengthAdjust="spacingAndGlyphs">ROMANIA</text>
<text x="1078" y="1183" class="c" textLength="47" lengthAdjust="spacingAndGlyphs">CRO.</text>
<text x="1089" y="1223" class="c" textLength="79" lengthAdjust="spacingAndGlyphs">BOSNIA</text>
<text x="1192" y="1276" class="c" textLength="74" lengthAdjust="spacingAndGlyphs">SERBIA</text>
<text x="940" y="1304" class="c" textLength="60" lengthAdjust="spacingAndGlyphs">ITALY</text>
<text x="1337" y="1304" class="c" textLength="61" lengthAdjust="spacingAndGlyphs">BULG.</text>
<text x="1221" y="1353" class="c" textLength="64" lengthAdjust="spacingAndGlyphs">MACE.</text>
<text x="433" y="1401" class="c" textLength="62" lengthAdjust="spacingAndGlyphs">SPAIN</text>
<text x="1180" y="1388" class="c" textLength="45" lengthAdjust="spacingAndGlyphs">ALB.</text>
<text x="284" y="1449" class="c" textLength="57" lengthAdjust="spacingAndGlyphs">PORT.</text>
<text x="1225" y="1450" class="c" textLength="80" lengthAdjust="spacingAndGlyphs">GREECE</text>
<text x="990" y="1585" class="c" textLength="72" lengthAdjust="spacingAndGlyphs">MALTA</text>
<text x="1230" y="728" class="cl" textLength="43" lengthAdjust="spacingAndGlyphs">Kal.</text>
<text x="497" y="855" class="cl" textLength="96" lengthAdjust="spacingAndGlyphs">England</text>
<text x="663" y="664" class="s" textLength="57" lengthAdjust="spacingAndGlyphs">North</text>
<text x="675" y="693" class="s" textLength="33" lengthAdjust="spacingAndGlyphs">Sea</text>
<text x="1136" y="639" class="s" textLength="56" lengthAdjust="spacingAndGlyphs">Baltic</text>
<text x="1146" y="668" class="s" textLength="36" lengthAdjust="spacingAndGlyphs">Sea</text>
<text x="276" y="1086" class="s" textLength="97" lengthAdjust="spacingAndGlyphs">ATLANTIC</text>
<text x="290" y="1115" class="s" textLength="68" lengthAdjust="spacingAndGlyphs">OCEAN</text>
<text x="641" y="1498" class="s" textLength="189" lengthAdjust="spacingAndGlyphs">Mediterranean Sea</text>
<text x="1585" y="1245" class="s" textLength="16" lengthAdjust="spacingAndGlyphs">B</text>
</g>
<rect x="200" y="200" width="1400" height="1400" fill="none" stroke="#000" stroke-width="2"/>
<rect x="1618.5" y="253.5" width="38" height="143" fill="#ff0000" stroke="#666" stroke-width="1"/>
<rect x="1618.5" y="403.5" width="38" height="143" fill="#ff5050" stroke="#666" stroke-width="1"/>
<rect x="1618.5" y="553.5" width="38" height="143" fill="#ffa3a3" stroke="#666" stroke-width="1"/>
<rect x="1618.5" y="703.5" width="38" height="143" fill="#ffd5d5" stroke="#666" stroke-width="1"/>
<rect x="1618.5" y="853.5" width="38" height="143" fill="#ffffff" stroke="#666" stroke-width="1"/>
<rect x="1618.5" y="1003.5" width="38" height="143" fill="#c8ffff" stroke="#666" stroke-width="1"/>
<rect x="1618.5" y="1153.5" width="38" height="143" fill="#64ffff" stroke="#666" stroke-width="1"/>
<rect x="1618.5" y="1303.5" width="38" height="143" fill="#50a0ff" stroke="#666" stroke-width="1"/>
<rect x="1618.5" y="1453.5" width="38" height="143" fill="#0080ff" stroke="#666" stroke-width="1"/>
<text x="1676" y="417.5" class="leg" textLength="56" lengthAdjust="spacingAndGlyphs">+7</text>
<text x="1676" y="567.5" class="leg" textLength="56" lengthAdjust="spacingAndGlyphs">+5</text>
<text x="1676" y="717.5" class="leg" textLength="56" lengthAdjust="spacingAndGlyphs">+3</text>
<text x="1676" y="867.5" class="leg" textLength="56" lengthAdjust="spacingAndGlyphs">+1</text>
<text x="1683" y="1017.5" class="leg" textLength="38" lengthAdjust="spacingAndGlyphs">-1</text>
<text x="1683" y="1167.5" class="leg" textLength="40.5" lengthAdjust="spacingAndGlyphs">-3</text>
<text x="1683" y="1317.5" class="leg" textLength="40.5" lengthAdjust="spacingAndGlyphs">-5</text>
<text x="1683" y="1467.5" class="leg" textLength="40.5" lengthAdjust="spacingAndGlyphs">-7</text>

<g>
<defs>
<path id="arcTop" d="M1633,1724 A71,71 0 1,1 1767,1724"/>
<path id="arcBot" d="M1628,1728 A77.5,77.5 0 0,0 1772,1728"/>
<clipPath id="lc"><circle cx="1700" cy="1699.5" r="66.5"/></clipPath>
</defs>
<g clip-path="url(#lc)">
<rect x="1630" y="1630" width="140" height="140" fill="#fff"/>
<path d="M1630,1630 L1770,1630 L1770,1655 L1752,1659 L1738,1672 L1725,1690 L1714,1706 L1703,1711 L1694,1709 L1684,1699 L1668,1680 L1646,1659 L1630,1655 Z" fill="#0714b4"/>
<path d="M1630,1682 L1634,1682 L1650,1692 L1666,1704 L1680,1711 L1696,1715 L1678,1724 L1680,1727 L1700,1725 L1728,1714 L1729,1712 L1716,1712 L1735,1696 L1760,1671 L1770,1665 L1770,1770 L1630,1770 Z" fill="#0096ff"/>
</g>
<text x="1671" y="1677" style="font-family:'Liberation Sans',sans-serif;font-weight:bold;font-size:22px;fill:#fff" textLength="55" lengthAdjust="spacingAndGlyphs">NOAA</text>
<text style="font-family:'Liberation Sans',sans-serif;font-weight:bold;font-size:8.5px;fill:#444"><textPath href="#arcTop" startOffset="50%" text-anchor="middle">NATIONAL OCEANIC AND ATMOSPHERIC ADMINISTRATION</textPath></text>
<text style="font-family:'Liberation Sans',sans-serif;font-weight:bold;font-size:8.5px;fill:#444"><textPath href="#arcBot" startOffset="50%" text-anchor="middle">U.S. DEPARTMENT OF COMMERCE</textPath></text>
</g>


<text x="900" y="50" class="t">EUROPE</text>
<text x="900" y="110" class="t">Temperature Anomaly (C)</text>
<text x="900" y="170" class="t">March 20 - 26, 2022</text>
<text x="1180" y="1660" class="f">CLIMATE PREDICTION CENTER, NOAA</text>
<text x="1180" y="1685" class="f">Computer generated contours</text>
<text x="1180" y="1710" class="f">Based on preliminary data</text>

</svg>
</body></html>
